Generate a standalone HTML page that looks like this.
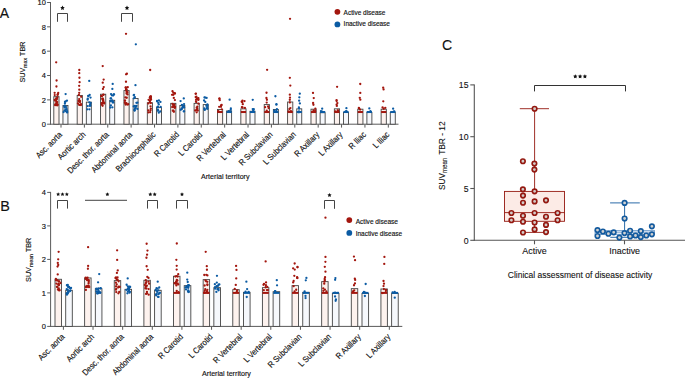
<!DOCTYPE html>
<html><head><meta charset="utf-8"><style>
html,body{margin:0;padding:0;background:#fff;width:685px;height:378px;overflow:hidden}
svg{display:block}
text{font-family:"Liberation Sans",sans-serif;stroke:#111;stroke-width:0.15px}
</style></head><body>
<svg width="685" height="378" viewBox="0 0 685 378">
<line x1="50.50" y1="2.00" x2="50.50" y2="124.70" stroke="#5a5a5a" stroke-width="1"/>
<line x1="50.00" y1="124.20" x2="398.50" y2="124.20" stroke="#5a5a5a" stroke-width="1"/>
<line x1="47.10" y1="124.20" x2="50.50" y2="124.20" stroke="#5a5a5a" stroke-width="1"/>
<text x="45.90" y="126.95" font-size="7.9" text-anchor="end" fill="#111" textLength="4.17" lengthAdjust="spacingAndGlyphs" >0</text>
<line x1="47.10" y1="99.86" x2="50.50" y2="99.86" stroke="#5a5a5a" stroke-width="1"/>
<text x="45.90" y="102.61" font-size="7.9" text-anchor="end" fill="#111" textLength="4.17" lengthAdjust="spacingAndGlyphs" >2</text>
<line x1="47.10" y1="75.52" x2="50.50" y2="75.52" stroke="#5a5a5a" stroke-width="1"/>
<text x="45.90" y="78.27" font-size="7.9" text-anchor="end" fill="#111" textLength="4.17" lengthAdjust="spacingAndGlyphs" >4</text>
<line x1="47.10" y1="51.18" x2="50.50" y2="51.18" stroke="#5a5a5a" stroke-width="1"/>
<text x="45.90" y="53.93" font-size="7.9" text-anchor="end" fill="#111" textLength="4.17" lengthAdjust="spacingAndGlyphs" >6</text>
<line x1="47.10" y1="26.84" x2="50.50" y2="26.84" stroke="#5a5a5a" stroke-width="1"/>
<text x="45.90" y="29.59" font-size="7.9" text-anchor="end" fill="#111" textLength="4.17" lengthAdjust="spacingAndGlyphs" >8</text>
<line x1="47.10" y1="2.50" x2="50.50" y2="2.50" stroke="#5a5a5a" stroke-width="1"/>
<text x="45.90" y="5.25" font-size="7.9" text-anchor="end" fill="#111" textLength="8.34" lengthAdjust="spacingAndGlyphs" >10</text>
<rect x="53.80" y="96.66" width="5.20" height="27.54" fill="#fdf2ee" stroke="#454545" stroke-width="0.9"/>
<rect x="62.95" y="105.54" width="5.00" height="18.66" fill="#f6f8fc" stroke="#454545" stroke-width="0.9"/>
<line x1="61.00" y1="124.20" x2="61.00" y2="127.60" stroke="#5a5a5a" stroke-width="1"/>
<text x="62.70" y="135.20" font-size="8.6" text-anchor="end" fill="#111" textLength="33.31" lengthAdjust="spacingAndGlyphs" transform="rotate(-45 62.70 135.20)">Asc. aorta</text>
<rect x="77.18" y="95.44" width="5.20" height="28.76" fill="#fdf2ee" stroke="#454545" stroke-width="0.9"/>
<rect x="86.33" y="102.14" width="5.00" height="22.06" fill="#f6f8fc" stroke="#454545" stroke-width="0.9"/>
<line x1="84.38" y1="124.20" x2="84.38" y2="127.60" stroke="#5a5a5a" stroke-width="1"/>
<text x="86.08" y="135.20" font-size="8.6" text-anchor="end" fill="#111" textLength="35.37" lengthAdjust="spacingAndGlyphs" transform="rotate(-45 86.08 135.20)">Aortic arch</text>
<rect x="100.56" y="94.23" width="5.20" height="29.97" fill="#fdf2ee" stroke="#454545" stroke-width="0.9"/>
<rect x="109.71" y="100.31" width="5.00" height="23.89" fill="#f6f8fc" stroke="#454545" stroke-width="0.9"/>
<line x1="107.76" y1="124.20" x2="107.76" y2="127.60" stroke="#5a5a5a" stroke-width="1"/>
<text x="109.46" y="135.20" font-size="8.6" text-anchor="end" fill="#111" textLength="54.70" lengthAdjust="spacingAndGlyphs" transform="rotate(-45 109.46 135.20)">Desc. thor. aorta</text>
<rect x="123.94" y="90.57" width="5.20" height="33.63" fill="#fdf2ee" stroke="#454545" stroke-width="0.9"/>
<rect x="133.09" y="98.48" width="5.00" height="25.72" fill="#f6f8fc" stroke="#454545" stroke-width="0.9"/>
<line x1="131.14" y1="124.20" x2="131.14" y2="127.60" stroke="#5a5a5a" stroke-width="1"/>
<text x="132.84" y="135.20" font-size="8.6" text-anchor="end" fill="#111" textLength="53.89" lengthAdjust="spacingAndGlyphs" transform="rotate(-45 132.84 135.20)">Abdominal aorta</text>
<rect x="147.32" y="102.74" width="5.20" height="21.46" fill="#fdf2ee" stroke="#454545" stroke-width="0.9"/>
<rect x="156.47" y="107.61" width="5.00" height="16.59" fill="#f6f8fc" stroke="#454545" stroke-width="0.9"/>
<line x1="154.52" y1="124.20" x2="154.52" y2="127.60" stroke="#5a5a5a" stroke-width="1"/>
<text x="156.22" y="135.20" font-size="8.6" text-anchor="end" fill="#111" textLength="52.24" lengthAdjust="spacingAndGlyphs" transform="rotate(-45 156.22 135.20)">Brachiocephalic</text>
<rect x="170.70" y="103.35" width="5.20" height="20.85" fill="#fdf2ee" stroke="#454545" stroke-width="0.9"/>
<rect x="179.85" y="105.54" width="5.00" height="18.66" fill="#f6f8fc" stroke="#454545" stroke-width="0.9"/>
<line x1="177.90" y1="124.20" x2="177.90" y2="127.60" stroke="#5a5a5a" stroke-width="1"/>
<text x="179.60" y="135.20" font-size="8.6" text-anchor="end" fill="#111" textLength="31.25" lengthAdjust="spacingAndGlyphs" transform="rotate(-45 179.60 135.20)">R Carotid</text>
<rect x="194.08" y="103.35" width="5.20" height="20.85" fill="#fdf2ee" stroke="#454545" stroke-width="0.9"/>
<rect x="203.23" y="104.57" width="5.00" height="19.63" fill="#f6f8fc" stroke="#454545" stroke-width="0.9"/>
<line x1="201.28" y1="124.20" x2="201.28" y2="127.60" stroke="#5a5a5a" stroke-width="1"/>
<text x="202.98" y="135.20" font-size="8.6" text-anchor="end" fill="#111" textLength="30.03" lengthAdjust="spacingAndGlyphs" transform="rotate(-45 202.98 135.20)">L Carotid</text>
<rect x="217.46" y="109.44" width="5.20" height="14.76" fill="#fdf2ee" stroke="#454545" stroke-width="0.9"/>
<rect x="226.61" y="110.90" width="5.00" height="13.30" fill="#f6f8fc" stroke="#454545" stroke-width="0.9"/>
<line x1="224.66" y1="124.20" x2="224.66" y2="127.60" stroke="#5a5a5a" stroke-width="1"/>
<text x="226.36" y="135.20" font-size="8.6" text-anchor="end" fill="#111" textLength="37.43" lengthAdjust="spacingAndGlyphs" transform="rotate(-45 226.36 135.20)">R Vertebral</text>
<rect x="240.84" y="108.83" width="5.20" height="15.37" fill="#fdf2ee" stroke="#454545" stroke-width="0.9"/>
<rect x="249.99" y="111.26" width="5.00" height="12.94" fill="#f6f8fc" stroke="#454545" stroke-width="0.9"/>
<line x1="248.04" y1="124.20" x2="248.04" y2="127.60" stroke="#5a5a5a" stroke-width="1"/>
<text x="249.74" y="135.20" font-size="8.6" text-anchor="end" fill="#111" textLength="36.20" lengthAdjust="spacingAndGlyphs" transform="rotate(-45 249.74 135.20)">L Vertebral</text>
<rect x="264.22" y="104.57" width="5.20" height="19.63" fill="#fdf2ee" stroke="#454545" stroke-width="0.9"/>
<rect x="273.37" y="109.44" width="5.00" height="14.76" fill="#f6f8fc" stroke="#454545" stroke-width="0.9"/>
<line x1="271.42" y1="124.20" x2="271.42" y2="127.60" stroke="#5a5a5a" stroke-width="1"/>
<text x="273.12" y="135.20" font-size="8.6" text-anchor="end" fill="#111" textLength="43.60" lengthAdjust="spacingAndGlyphs" transform="rotate(-45 273.12 135.20)">R Subclavian</text>
<rect x="287.60" y="102.01" width="5.20" height="22.19" fill="#fdf2ee" stroke="#454545" stroke-width="0.9"/>
<rect x="296.75" y="108.83" width="5.00" height="15.37" fill="#f6f8fc" stroke="#454545" stroke-width="0.9"/>
<line x1="294.80" y1="124.20" x2="294.80" y2="127.60" stroke="#5a5a5a" stroke-width="1"/>
<text x="296.50" y="135.20" font-size="8.6" text-anchor="end" fill="#111" textLength="42.37" lengthAdjust="spacingAndGlyphs" transform="rotate(-45 296.50 135.20)">L Subclavian</text>
<rect x="310.98" y="109.19" width="5.20" height="15.01" fill="#fdf2ee" stroke="#454545" stroke-width="0.9"/>
<rect x="320.13" y="112.72" width="5.00" height="11.48" fill="#f6f8fc" stroke="#454545" stroke-width="0.9"/>
<line x1="318.18" y1="124.20" x2="318.18" y2="127.60" stroke="#5a5a5a" stroke-width="1"/>
<text x="319.88" y="135.20" font-size="8.6" text-anchor="end" fill="#111" textLength="31.25" lengthAdjust="spacingAndGlyphs" transform="rotate(-45 319.88 135.20)">R Axillary</text>
<rect x="334.36" y="108.83" width="5.20" height="15.37" fill="#fdf2ee" stroke="#454545" stroke-width="0.9"/>
<rect x="343.51" y="112.48" width="5.00" height="11.72" fill="#f6f8fc" stroke="#454545" stroke-width="0.9"/>
<line x1="341.56" y1="124.20" x2="341.56" y2="127.60" stroke="#5a5a5a" stroke-width="1"/>
<text x="343.26" y="135.20" font-size="8.6" text-anchor="end" fill="#111" textLength="30.02" lengthAdjust="spacingAndGlyphs" transform="rotate(-45 343.26 135.20)">L Axillary</text>
<rect x="357.74" y="109.19" width="5.20" height="15.01" fill="#fdf2ee" stroke="#454545" stroke-width="0.9"/>
<rect x="366.89" y="112.48" width="5.00" height="11.72" fill="#f6f8fc" stroke="#454545" stroke-width="0.9"/>
<line x1="364.94" y1="124.20" x2="364.94" y2="127.60" stroke="#5a5a5a" stroke-width="1"/>
<text x="366.64" y="135.20" font-size="8.6" text-anchor="end" fill="#111" textLength="20.56" lengthAdjust="spacingAndGlyphs" transform="rotate(-45 366.64 135.20)">R Iliac</text>
<rect x="381.12" y="109.19" width="5.20" height="15.01" fill="#fdf2ee" stroke="#454545" stroke-width="0.9"/>
<rect x="390.27" y="112.48" width="5.00" height="11.72" fill="#f6f8fc" stroke="#454545" stroke-width="0.9"/>
<line x1="388.32" y1="124.20" x2="388.32" y2="127.60" stroke="#5a5a5a" stroke-width="1"/>
<text x="390.02" y="135.20" font-size="8.6" text-anchor="end" fill="#111" textLength="19.33" lengthAdjust="spacingAndGlyphs" transform="rotate(-45 390.02 135.20)">L Iliac</text>
<text x="201.00" y="178.80" font-size="7.8" text-anchor="start" fill="#111" textLength="48.50" lengthAdjust="spacingAndGlyphs" >Arterial territory</text>
<circle cx="56.19" cy="62.29" r="1.15" fill="#a3160e" stroke="none" stroke-width="0"/>
<circle cx="56.58" cy="80.50" r="1.15" fill="#a3160e" stroke="none" stroke-width="0"/>
<circle cx="56.44" cy="86.51" r="1.15" fill="#a3160e" stroke="none" stroke-width="0"/>
<circle cx="55.19" cy="105.21" r="1.15" fill="#a3160e" stroke="none" stroke-width="0"/>
<circle cx="56.93" cy="99.01" r="1.15" fill="#a3160e" stroke="none" stroke-width="0"/>
<circle cx="56.58" cy="105.18" r="1.15" fill="#a3160e" stroke="none" stroke-width="0"/>
<circle cx="54.73" cy="99.91" r="1.15" fill="#a3160e" stroke="none" stroke-width="0"/>
<circle cx="57.09" cy="104.96" r="1.15" fill="#a3160e" stroke="none" stroke-width="0"/>
<circle cx="55.69" cy="104.77" r="1.15" fill="#a3160e" stroke="none" stroke-width="0"/>
<circle cx="56.22" cy="100.09" r="1.15" fill="#a3160e" stroke="none" stroke-width="0"/>
<circle cx="57.52" cy="94.89" r="1.15" fill="#a3160e" stroke="none" stroke-width="0"/>
<circle cx="55.43" cy="104.32" r="1.15" fill="#a3160e" stroke="none" stroke-width="0"/>
<circle cx="56.50" cy="103.15" r="1.15" fill="#a3160e" stroke="none" stroke-width="0"/>
<circle cx="57.27" cy="97.34" r="1.15" fill="#a3160e" stroke="none" stroke-width="0"/>
<circle cx="58.22" cy="92.91" r="1.15" fill="#a3160e" stroke="none" stroke-width="0"/>
<circle cx="56.09" cy="98.30" r="1.15" fill="#a3160e" stroke="none" stroke-width="0"/>
<circle cx="55.08" cy="100.58" r="1.15" fill="#a3160e" stroke="none" stroke-width="0"/>
<circle cx="54.65" cy="92.86" r="1.15" fill="#a3160e" stroke="none" stroke-width="0"/>
<circle cx="57.41" cy="105.36" r="1.15" fill="#a3160e" stroke="none" stroke-width="0"/>
<circle cx="57.83" cy="94.24" r="1.15" fill="#a3160e" stroke="none" stroke-width="0"/>
<circle cx="57.14" cy="102.09" r="1.15" fill="#a3160e" stroke="none" stroke-width="0"/>
<circle cx="56.70" cy="103.97" r="1.15" fill="#a3160e" stroke="none" stroke-width="0"/>
<circle cx="57.69" cy="104.62" r="1.15" fill="#a3160e" stroke="none" stroke-width="0"/>
<circle cx="56.30" cy="101.88" r="1.15" fill="#a3160e" stroke="none" stroke-width="0"/>
<circle cx="54.73" cy="95.04" r="1.15" fill="#a3160e" stroke="none" stroke-width="0"/>
<circle cx="65.63" cy="94.07" r="1.15" fill="#0b5ba3" stroke="none" stroke-width="0"/>
<circle cx="65.64" cy="101.43" r="1.15" fill="#0b5ba3" stroke="none" stroke-width="0"/>
<circle cx="66.66" cy="109.14" r="1.15" fill="#0b5ba3" stroke="none" stroke-width="0"/>
<circle cx="64.61" cy="107.41" r="1.15" fill="#0b5ba3" stroke="none" stroke-width="0"/>
<circle cx="64.91" cy="103.63" r="1.15" fill="#0b5ba3" stroke="none" stroke-width="0"/>
<circle cx="67.19" cy="112.47" r="1.15" fill="#0b5ba3" stroke="none" stroke-width="0"/>
<circle cx="64.22" cy="106.21" r="1.15" fill="#0b5ba3" stroke="none" stroke-width="0"/>
<circle cx="64.44" cy="110.58" r="1.15" fill="#0b5ba3" stroke="none" stroke-width="0"/>
<circle cx="65.79" cy="111.18" r="1.15" fill="#0b5ba3" stroke="none" stroke-width="0"/>
<circle cx="63.57" cy="112.11" r="1.15" fill="#0b5ba3" stroke="none" stroke-width="0"/>
<circle cx="64.95" cy="102.01" r="1.15" fill="#0b5ba3" stroke="none" stroke-width="0"/>
<circle cx="67.17" cy="111.26" r="1.15" fill="#0b5ba3" stroke="none" stroke-width="0"/>
<circle cx="65.51" cy="109.52" r="1.15" fill="#0b5ba3" stroke="none" stroke-width="0"/>
<circle cx="66.12" cy="107.12" r="1.15" fill="#0b5ba3" stroke="none" stroke-width="0"/>
<circle cx="66.97" cy="100.66" r="1.15" fill="#0b5ba3" stroke="none" stroke-width="0"/>
<circle cx="66.87" cy="112.03" r="1.15" fill="#0b5ba3" stroke="none" stroke-width="0"/>
<circle cx="65.04" cy="106.49" r="1.15" fill="#0b5ba3" stroke="none" stroke-width="0"/>
<circle cx="79.30" cy="70.00" r="1.15" fill="#a3160e" stroke="none" stroke-width="0"/>
<circle cx="79.25" cy="73.19" r="1.15" fill="#a3160e" stroke="none" stroke-width="0"/>
<circle cx="79.43" cy="77.75" r="1.15" fill="#a3160e" stroke="none" stroke-width="0"/>
<circle cx="79.59" cy="82.19" r="1.15" fill="#a3160e" stroke="none" stroke-width="0"/>
<circle cx="79.18" cy="85.78" r="1.15" fill="#a3160e" stroke="none" stroke-width="0"/>
<circle cx="79.30" cy="89.68" r="1.15" fill="#a3160e" stroke="none" stroke-width="0"/>
<circle cx="79.21" cy="92.78" r="1.15" fill="#a3160e" stroke="none" stroke-width="0"/>
<circle cx="79.18" cy="99.08" r="1.15" fill="#a3160e" stroke="none" stroke-width="0"/>
<circle cx="81.03" cy="104.11" r="1.15" fill="#a3160e" stroke="none" stroke-width="0"/>
<circle cx="77.97" cy="103.45" r="1.15" fill="#a3160e" stroke="none" stroke-width="0"/>
<circle cx="79.89" cy="101.93" r="1.15" fill="#a3160e" stroke="none" stroke-width="0"/>
<circle cx="79.94" cy="101.67" r="1.15" fill="#a3160e" stroke="none" stroke-width="0"/>
<circle cx="79.89" cy="104.89" r="1.15" fill="#a3160e" stroke="none" stroke-width="0"/>
<circle cx="81.16" cy="96.76" r="1.15" fill="#a3160e" stroke="none" stroke-width="0"/>
<circle cx="78.87" cy="94.99" r="1.15" fill="#a3160e" stroke="none" stroke-width="0"/>
<circle cx="78.51" cy="101.00" r="1.15" fill="#a3160e" stroke="none" stroke-width="0"/>
<circle cx="79.90" cy="100.81" r="1.15" fill="#a3160e" stroke="none" stroke-width="0"/>
<circle cx="79.13" cy="104.84" r="1.15" fill="#a3160e" stroke="none" stroke-width="0"/>
<circle cx="80.96" cy="105.12" r="1.15" fill="#a3160e" stroke="none" stroke-width="0"/>
<circle cx="89.25" cy="80.94" r="1.15" fill="#0b5ba3" stroke="none" stroke-width="0"/>
<circle cx="90.56" cy="97.56" r="1.15" fill="#0b5ba3" stroke="none" stroke-width="0"/>
<circle cx="87.77" cy="98.63" r="1.15" fill="#0b5ba3" stroke="none" stroke-width="0"/>
<circle cx="87.68" cy="106.11" r="1.15" fill="#0b5ba3" stroke="none" stroke-width="0"/>
<circle cx="89.30" cy="102.28" r="1.15" fill="#0b5ba3" stroke="none" stroke-width="0"/>
<circle cx="90.12" cy="104.39" r="1.15" fill="#0b5ba3" stroke="none" stroke-width="0"/>
<circle cx="89.41" cy="109.35" r="1.15" fill="#0b5ba3" stroke="none" stroke-width="0"/>
<circle cx="87.25" cy="109.28" r="1.15" fill="#0b5ba3" stroke="none" stroke-width="0"/>
<circle cx="90.39" cy="105.68" r="1.15" fill="#0b5ba3" stroke="none" stroke-width="0"/>
<circle cx="89.78" cy="105.80" r="1.15" fill="#0b5ba3" stroke="none" stroke-width="0"/>
<circle cx="87.61" cy="99.66" r="1.15" fill="#0b5ba3" stroke="none" stroke-width="0"/>
<circle cx="88.19" cy="95.81" r="1.15" fill="#0b5ba3" stroke="none" stroke-width="0"/>
<circle cx="90.62" cy="103.00" r="1.15" fill="#0b5ba3" stroke="none" stroke-width="0"/>
<circle cx="88.46" cy="96.18" r="1.15" fill="#0b5ba3" stroke="none" stroke-width="0"/>
<circle cx="89.68" cy="94.97" r="1.15" fill="#0b5ba3" stroke="none" stroke-width="0"/>
<circle cx="102.71" cy="66.06" r="1.15" fill="#a3160e" stroke="none" stroke-width="0"/>
<circle cx="103.65" cy="79.60" r="1.15" fill="#a3160e" stroke="none" stroke-width="0"/>
<circle cx="102.74" cy="82.65" r="1.15" fill="#a3160e" stroke="none" stroke-width="0"/>
<circle cx="103.74" cy="87.05" r="1.15" fill="#a3160e" stroke="none" stroke-width="0"/>
<circle cx="102.98" cy="88.94" r="1.15" fill="#a3160e" stroke="none" stroke-width="0"/>
<circle cx="101.76" cy="104.66" r="1.15" fill="#a3160e" stroke="none" stroke-width="0"/>
<circle cx="102.60" cy="105.75" r="1.15" fill="#a3160e" stroke="none" stroke-width="0"/>
<circle cx="103.48" cy="94.84" r="1.15" fill="#a3160e" stroke="none" stroke-width="0"/>
<circle cx="102.86" cy="98.61" r="1.15" fill="#a3160e" stroke="none" stroke-width="0"/>
<circle cx="103.17" cy="99.81" r="1.15" fill="#a3160e" stroke="none" stroke-width="0"/>
<circle cx="103.25" cy="94.75" r="1.15" fill="#a3160e" stroke="none" stroke-width="0"/>
<circle cx="102.93" cy="100.69" r="1.15" fill="#a3160e" stroke="none" stroke-width="0"/>
<circle cx="101.27" cy="95.94" r="1.15" fill="#a3160e" stroke="none" stroke-width="0"/>
<circle cx="101.91" cy="96.28" r="1.15" fill="#a3160e" stroke="none" stroke-width="0"/>
<circle cx="104.02" cy="103.51" r="1.15" fill="#a3160e" stroke="none" stroke-width="0"/>
<circle cx="102.50" cy="103.01" r="1.15" fill="#a3160e" stroke="none" stroke-width="0"/>
<circle cx="103.37" cy="102.69" r="1.15" fill="#a3160e" stroke="none" stroke-width="0"/>
<circle cx="101.66" cy="103.17" r="1.15" fill="#a3160e" stroke="none" stroke-width="0"/>
<circle cx="102.20" cy="98.96" r="1.15" fill="#a3160e" stroke="none" stroke-width="0"/>
<circle cx="104.19" cy="102.92" r="1.15" fill="#a3160e" stroke="none" stroke-width="0"/>
<circle cx="103.39" cy="101.21" r="1.15" fill="#a3160e" stroke="none" stroke-width="0"/>
<circle cx="112.70" cy="83.88" r="1.15" fill="#0b5ba3" stroke="none" stroke-width="0"/>
<circle cx="112.35" cy="88.91" r="1.15" fill="#0b5ba3" stroke="none" stroke-width="0"/>
<circle cx="110.59" cy="101.09" r="1.15" fill="#0b5ba3" stroke="none" stroke-width="0"/>
<circle cx="110.59" cy="98.40" r="1.15" fill="#0b5ba3" stroke="none" stroke-width="0"/>
<circle cx="113.29" cy="102.46" r="1.15" fill="#0b5ba3" stroke="none" stroke-width="0"/>
<circle cx="110.90" cy="101.03" r="1.15" fill="#0b5ba3" stroke="none" stroke-width="0"/>
<circle cx="112.82" cy="101.59" r="1.15" fill="#0b5ba3" stroke="none" stroke-width="0"/>
<circle cx="113.66" cy="94.52" r="1.15" fill="#0b5ba3" stroke="none" stroke-width="0"/>
<circle cx="111.14" cy="98.46" r="1.15" fill="#0b5ba3" stroke="none" stroke-width="0"/>
<circle cx="111.82" cy="95.29" r="1.15" fill="#0b5ba3" stroke="none" stroke-width="0"/>
<circle cx="114.07" cy="94.43" r="1.15" fill="#0b5ba3" stroke="none" stroke-width="0"/>
<circle cx="110.92" cy="105.32" r="1.15" fill="#0b5ba3" stroke="none" stroke-width="0"/>
<circle cx="112.27" cy="100.38" r="1.15" fill="#0b5ba3" stroke="none" stroke-width="0"/>
<circle cx="111.05" cy="94.10" r="1.15" fill="#0b5ba3" stroke="none" stroke-width="0"/>
<circle cx="113.05" cy="95.61" r="1.15" fill="#0b5ba3" stroke="none" stroke-width="0"/>
<circle cx="112.42" cy="107.32" r="1.15" fill="#0b5ba3" stroke="none" stroke-width="0"/>
<circle cx="110.38" cy="107.51" r="1.15" fill="#0b5ba3" stroke="none" stroke-width="0"/>
<circle cx="112.68" cy="102.39" r="1.15" fill="#0b5ba3" stroke="none" stroke-width="0"/>
<circle cx="126.02" cy="33.82" r="1.15" fill="#a3160e" stroke="none" stroke-width="0"/>
<circle cx="126.89" cy="73.73" r="1.15" fill="#a3160e" stroke="none" stroke-width="0"/>
<circle cx="126.07" cy="74.28" r="1.15" fill="#a3160e" stroke="none" stroke-width="0"/>
<circle cx="125.99" cy="81.77" r="1.15" fill="#a3160e" stroke="none" stroke-width="0"/>
<circle cx="124.89" cy="100.76" r="1.15" fill="#a3160e" stroke="none" stroke-width="0"/>
<circle cx="126.36" cy="103.26" r="1.15" fill="#a3160e" stroke="none" stroke-width="0"/>
<circle cx="126.74" cy="97.77" r="1.15" fill="#a3160e" stroke="none" stroke-width="0"/>
<circle cx="125.66" cy="87.53" r="1.15" fill="#a3160e" stroke="none" stroke-width="0"/>
<circle cx="126.64" cy="89.44" r="1.15" fill="#a3160e" stroke="none" stroke-width="0"/>
<circle cx="125.06" cy="100.58" r="1.15" fill="#a3160e" stroke="none" stroke-width="0"/>
<circle cx="124.83" cy="102.78" r="1.15" fill="#a3160e" stroke="none" stroke-width="0"/>
<circle cx="125.83" cy="87.48" r="1.15" fill="#a3160e" stroke="none" stroke-width="0"/>
<circle cx="127.53" cy="94.43" r="1.15" fill="#a3160e" stroke="none" stroke-width="0"/>
<circle cx="126.54" cy="91.77" r="1.15" fill="#a3160e" stroke="none" stroke-width="0"/>
<circle cx="125.96" cy="103.87" r="1.15" fill="#a3160e" stroke="none" stroke-width="0"/>
<circle cx="125.59" cy="104.51" r="1.15" fill="#a3160e" stroke="none" stroke-width="0"/>
<circle cx="127.43" cy="92.24" r="1.15" fill="#a3160e" stroke="none" stroke-width="0"/>
<circle cx="125.36" cy="97.44" r="1.15" fill="#a3160e" stroke="none" stroke-width="0"/>
<circle cx="128.19" cy="104.26" r="1.15" fill="#a3160e" stroke="none" stroke-width="0"/>
<circle cx="127.75" cy="87.18" r="1.15" fill="#a3160e" stroke="none" stroke-width="0"/>
<circle cx="126.52" cy="93.48" r="1.15" fill="#a3160e" stroke="none" stroke-width="0"/>
<circle cx="126.13" cy="89.95" r="1.15" fill="#a3160e" stroke="none" stroke-width="0"/>
<circle cx="127.25" cy="104.56" r="1.15" fill="#a3160e" stroke="none" stroke-width="0"/>
<circle cx="125.94" cy="89.06" r="1.15" fill="#a3160e" stroke="none" stroke-width="0"/>
<circle cx="135.84" cy="44.32" r="1.15" fill="#0b5ba3" stroke="none" stroke-width="0"/>
<circle cx="135.48" cy="85.16" r="1.15" fill="#0b5ba3" stroke="none" stroke-width="0"/>
<circle cx="134.69" cy="110.55" r="1.15" fill="#0b5ba3" stroke="none" stroke-width="0"/>
<circle cx="137.39" cy="108.88" r="1.15" fill="#0b5ba3" stroke="none" stroke-width="0"/>
<circle cx="134.62" cy="110.25" r="1.15" fill="#0b5ba3" stroke="none" stroke-width="0"/>
<circle cx="134.87" cy="97.24" r="1.15" fill="#0b5ba3" stroke="none" stroke-width="0"/>
<circle cx="133.69" cy="106.41" r="1.15" fill="#0b5ba3" stroke="none" stroke-width="0"/>
<circle cx="135.49" cy="108.22" r="1.15" fill="#0b5ba3" stroke="none" stroke-width="0"/>
<circle cx="134.45" cy="109.71" r="1.15" fill="#0b5ba3" stroke="none" stroke-width="0"/>
<circle cx="133.71" cy="95.29" r="1.15" fill="#0b5ba3" stroke="none" stroke-width="0"/>
<circle cx="134.03" cy="94.82" r="1.15" fill="#0b5ba3" stroke="none" stroke-width="0"/>
<circle cx="133.85" cy="98.36" r="1.15" fill="#0b5ba3" stroke="none" stroke-width="0"/>
<circle cx="134.85" cy="105.82" r="1.15" fill="#0b5ba3" stroke="none" stroke-width="0"/>
<circle cx="135.92" cy="106.75" r="1.15" fill="#0b5ba3" stroke="none" stroke-width="0"/>
<circle cx="136.54" cy="105.87" r="1.15" fill="#0b5ba3" stroke="none" stroke-width="0"/>
<circle cx="136.41" cy="102.86" r="1.15" fill="#0b5ba3" stroke="none" stroke-width="0"/>
<circle cx="135.17" cy="108.22" r="1.15" fill="#0b5ba3" stroke="none" stroke-width="0"/>
<circle cx="137.43" cy="102.68" r="1.15" fill="#0b5ba3" stroke="none" stroke-width="0"/>
<circle cx="150.19" cy="70.01" r="1.15" fill="#a3160e" stroke="none" stroke-width="0"/>
<circle cx="148.42" cy="112.38" r="1.15" fill="#a3160e" stroke="none" stroke-width="0"/>
<circle cx="150.14" cy="97.43" r="1.15" fill="#a3160e" stroke="none" stroke-width="0"/>
<circle cx="150.40" cy="96.40" r="1.15" fill="#a3160e" stroke="none" stroke-width="0"/>
<circle cx="149.88" cy="100.95" r="1.15" fill="#a3160e" stroke="none" stroke-width="0"/>
<circle cx="151.05" cy="99.40" r="1.15" fill="#a3160e" stroke="none" stroke-width="0"/>
<circle cx="149.93" cy="97.80" r="1.15" fill="#a3160e" stroke="none" stroke-width="0"/>
<circle cx="150.53" cy="110.13" r="1.15" fill="#a3160e" stroke="none" stroke-width="0"/>
<circle cx="150.82" cy="103.04" r="1.15" fill="#a3160e" stroke="none" stroke-width="0"/>
<circle cx="148.30" cy="103.41" r="1.15" fill="#a3160e" stroke="none" stroke-width="0"/>
<circle cx="150.79" cy="97.18" r="1.15" fill="#a3160e" stroke="none" stroke-width="0"/>
<circle cx="150.83" cy="98.21" r="1.15" fill="#a3160e" stroke="none" stroke-width="0"/>
<circle cx="149.90" cy="97.44" r="1.15" fill="#a3160e" stroke="none" stroke-width="0"/>
<circle cx="149.84" cy="102.17" r="1.15" fill="#a3160e" stroke="none" stroke-width="0"/>
<circle cx="150.93" cy="96.34" r="1.15" fill="#a3160e" stroke="none" stroke-width="0"/>
<circle cx="150.46" cy="99.95" r="1.15" fill="#a3160e" stroke="none" stroke-width="0"/>
<circle cx="148.58" cy="99.86" r="1.15" fill="#a3160e" stroke="none" stroke-width="0"/>
<circle cx="150.84" cy="108.58" r="1.15" fill="#a3160e" stroke="none" stroke-width="0"/>
<circle cx="150.18" cy="112.13" r="1.15" fill="#a3160e" stroke="none" stroke-width="0"/>
<circle cx="148.25" cy="110.37" r="1.15" fill="#a3160e" stroke="none" stroke-width="0"/>
<circle cx="150.57" cy="106.36" r="1.15" fill="#a3160e" stroke="none" stroke-width="0"/>
<circle cx="158.78" cy="104.39" r="1.15" fill="#0b5ba3" stroke="none" stroke-width="0"/>
<circle cx="157.87" cy="109.63" r="1.15" fill="#0b5ba3" stroke="none" stroke-width="0"/>
<circle cx="157.87" cy="106.58" r="1.15" fill="#0b5ba3" stroke="none" stroke-width="0"/>
<circle cx="157.61" cy="107.19" r="1.15" fill="#0b5ba3" stroke="none" stroke-width="0"/>
<circle cx="160.69" cy="106.94" r="1.15" fill="#0b5ba3" stroke="none" stroke-width="0"/>
<circle cx="160.19" cy="111.52" r="1.15" fill="#0b5ba3" stroke="none" stroke-width="0"/>
<circle cx="160.44" cy="101.92" r="1.15" fill="#0b5ba3" stroke="none" stroke-width="0"/>
<circle cx="157.95" cy="110.74" r="1.15" fill="#0b5ba3" stroke="none" stroke-width="0"/>
<circle cx="158.92" cy="100.46" r="1.15" fill="#0b5ba3" stroke="none" stroke-width="0"/>
<circle cx="157.08" cy="101.26" r="1.15" fill="#0b5ba3" stroke="none" stroke-width="0"/>
<circle cx="158.78" cy="112.67" r="1.15" fill="#0b5ba3" stroke="none" stroke-width="0"/>
<circle cx="157.60" cy="107.16" r="1.15" fill="#0b5ba3" stroke="none" stroke-width="0"/>
<circle cx="158.27" cy="102.93" r="1.15" fill="#0b5ba3" stroke="none" stroke-width="0"/>
<circle cx="157.08" cy="101.02" r="1.15" fill="#0b5ba3" stroke="none" stroke-width="0"/>
<circle cx="173.34" cy="94.74" r="1.15" fill="#a3160e" stroke="none" stroke-width="0"/>
<circle cx="172.82" cy="110.69" r="1.15" fill="#a3160e" stroke="none" stroke-width="0"/>
<circle cx="174.76" cy="93.24" r="1.15" fill="#a3160e" stroke="none" stroke-width="0"/>
<circle cx="173.80" cy="97.89" r="1.15" fill="#a3160e" stroke="none" stroke-width="0"/>
<circle cx="174.97" cy="93.61" r="1.15" fill="#a3160e" stroke="none" stroke-width="0"/>
<circle cx="174.13" cy="106.49" r="1.15" fill="#a3160e" stroke="none" stroke-width="0"/>
<circle cx="174.18" cy="104.96" r="1.15" fill="#a3160e" stroke="none" stroke-width="0"/>
<circle cx="174.26" cy="104.63" r="1.15" fill="#a3160e" stroke="none" stroke-width="0"/>
<circle cx="172.49" cy="91.22" r="1.15" fill="#a3160e" stroke="none" stroke-width="0"/>
<circle cx="174.92" cy="100.09" r="1.15" fill="#a3160e" stroke="none" stroke-width="0"/>
<circle cx="173.19" cy="105.14" r="1.15" fill="#a3160e" stroke="none" stroke-width="0"/>
<circle cx="172.53" cy="103.93" r="1.15" fill="#a3160e" stroke="none" stroke-width="0"/>
<circle cx="175.11" cy="106.93" r="1.15" fill="#a3160e" stroke="none" stroke-width="0"/>
<circle cx="173.89" cy="111.84" r="1.15" fill="#a3160e" stroke="none" stroke-width="0"/>
<circle cx="173.52" cy="110.75" r="1.15" fill="#a3160e" stroke="none" stroke-width="0"/>
<circle cx="172.04" cy="94.82" r="1.15" fill="#a3160e" stroke="none" stroke-width="0"/>
<circle cx="172.19" cy="107.09" r="1.15" fill="#a3160e" stroke="none" stroke-width="0"/>
<circle cx="173.29" cy="92.68" r="1.15" fill="#a3160e" stroke="none" stroke-width="0"/>
<circle cx="174.84" cy="107.93" r="1.15" fill="#a3160e" stroke="none" stroke-width="0"/>
<circle cx="173.11" cy="107.06" r="1.15" fill="#a3160e" stroke="none" stroke-width="0"/>
<circle cx="180.69" cy="109.78" r="1.15" fill="#0b5ba3" stroke="none" stroke-width="0"/>
<circle cx="184.13" cy="111.32" r="1.15" fill="#0b5ba3" stroke="none" stroke-width="0"/>
<circle cx="182.36" cy="107.59" r="1.15" fill="#0b5ba3" stroke="none" stroke-width="0"/>
<circle cx="183.73" cy="111.37" r="1.15" fill="#0b5ba3" stroke="none" stroke-width="0"/>
<circle cx="181.48" cy="109.01" r="1.15" fill="#0b5ba3" stroke="none" stroke-width="0"/>
<circle cx="181.97" cy="108.82" r="1.15" fill="#0b5ba3" stroke="none" stroke-width="0"/>
<circle cx="184.07" cy="104.06" r="1.15" fill="#0b5ba3" stroke="none" stroke-width="0"/>
<circle cx="183.77" cy="98.46" r="1.15" fill="#0b5ba3" stroke="none" stroke-width="0"/>
<circle cx="180.57" cy="101.09" r="1.15" fill="#0b5ba3" stroke="none" stroke-width="0"/>
<circle cx="183.85" cy="106.36" r="1.15" fill="#0b5ba3" stroke="none" stroke-width="0"/>
<circle cx="182.68" cy="106.05" r="1.15" fill="#0b5ba3" stroke="none" stroke-width="0"/>
<circle cx="181.94" cy="104.84" r="1.15" fill="#0b5ba3" stroke="none" stroke-width="0"/>
<circle cx="183.59" cy="107.16" r="1.15" fill="#0b5ba3" stroke="none" stroke-width="0"/>
<circle cx="184.14" cy="107.42" r="1.15" fill="#0b5ba3" stroke="none" stroke-width="0"/>
<circle cx="195.21" cy="110.50" r="1.15" fill="#a3160e" stroke="none" stroke-width="0"/>
<circle cx="196.77" cy="109.88" r="1.15" fill="#a3160e" stroke="none" stroke-width="0"/>
<circle cx="196.25" cy="102.09" r="1.15" fill="#a3160e" stroke="none" stroke-width="0"/>
<circle cx="197.06" cy="98.68" r="1.15" fill="#a3160e" stroke="none" stroke-width="0"/>
<circle cx="195.93" cy="93.62" r="1.15" fill="#a3160e" stroke="none" stroke-width="0"/>
<circle cx="198.42" cy="98.25" r="1.15" fill="#a3160e" stroke="none" stroke-width="0"/>
<circle cx="198.14" cy="99.67" r="1.15" fill="#a3160e" stroke="none" stroke-width="0"/>
<circle cx="195.67" cy="97.12" r="1.15" fill="#a3160e" stroke="none" stroke-width="0"/>
<circle cx="198.43" cy="103.72" r="1.15" fill="#a3160e" stroke="none" stroke-width="0"/>
<circle cx="195.95" cy="101.37" r="1.15" fill="#a3160e" stroke="none" stroke-width="0"/>
<circle cx="196.67" cy="112.29" r="1.15" fill="#a3160e" stroke="none" stroke-width="0"/>
<circle cx="196.38" cy="96.77" r="1.15" fill="#a3160e" stroke="none" stroke-width="0"/>
<circle cx="197.32" cy="108.48" r="1.15" fill="#a3160e" stroke="none" stroke-width="0"/>
<circle cx="195.64" cy="93.80" r="1.15" fill="#a3160e" stroke="none" stroke-width="0"/>
<circle cx="196.06" cy="99.68" r="1.15" fill="#a3160e" stroke="none" stroke-width="0"/>
<circle cx="197.37" cy="106.57" r="1.15" fill="#a3160e" stroke="none" stroke-width="0"/>
<circle cx="197.81" cy="110.52" r="1.15" fill="#a3160e" stroke="none" stroke-width="0"/>
<circle cx="196.70" cy="107.65" r="1.15" fill="#a3160e" stroke="none" stroke-width="0"/>
<circle cx="198.47" cy="99.80" r="1.15" fill="#a3160e" stroke="none" stroke-width="0"/>
<circle cx="197.90" cy="98.47" r="1.15" fill="#a3160e" stroke="none" stroke-width="0"/>
<circle cx="204.37" cy="108.51" r="1.15" fill="#0b5ba3" stroke="none" stroke-width="0"/>
<circle cx="204.06" cy="100.52" r="1.15" fill="#0b5ba3" stroke="none" stroke-width="0"/>
<circle cx="207.24" cy="107.90" r="1.15" fill="#0b5ba3" stroke="none" stroke-width="0"/>
<circle cx="206.61" cy="97.97" r="1.15" fill="#0b5ba3" stroke="none" stroke-width="0"/>
<circle cx="207.37" cy="104.51" r="1.15" fill="#0b5ba3" stroke="none" stroke-width="0"/>
<circle cx="204.53" cy="109.56" r="1.15" fill="#0b5ba3" stroke="none" stroke-width="0"/>
<circle cx="206.67" cy="108.47" r="1.15" fill="#0b5ba3" stroke="none" stroke-width="0"/>
<circle cx="206.35" cy="105.73" r="1.15" fill="#0b5ba3" stroke="none" stroke-width="0"/>
<circle cx="205.25" cy="101.93" r="1.15" fill="#0b5ba3" stroke="none" stroke-width="0"/>
<circle cx="204.47" cy="97.42" r="1.15" fill="#0b5ba3" stroke="none" stroke-width="0"/>
<circle cx="204.89" cy="109.84" r="1.15" fill="#0b5ba3" stroke="none" stroke-width="0"/>
<circle cx="207.46" cy="105.94" r="1.15" fill="#0b5ba3" stroke="none" stroke-width="0"/>
<circle cx="207.49" cy="108.74" r="1.15" fill="#0b5ba3" stroke="none" stroke-width="0"/>
<circle cx="205.19" cy="97.53" r="1.15" fill="#0b5ba3" stroke="none" stroke-width="0"/>
<circle cx="219.72" cy="100.21" r="1.15" fill="#a3160e" stroke="none" stroke-width="0"/>
<circle cx="221.07" cy="105.44" r="1.15" fill="#a3160e" stroke="none" stroke-width="0"/>
<circle cx="218.29" cy="111.05" r="1.15" fill="#a3160e" stroke="none" stroke-width="0"/>
<circle cx="221.66" cy="104.97" r="1.15" fill="#a3160e" stroke="none" stroke-width="0"/>
<circle cx="221.00" cy="106.83" r="1.15" fill="#a3160e" stroke="none" stroke-width="0"/>
<circle cx="219.45" cy="98.46" r="1.15" fill="#a3160e" stroke="none" stroke-width="0"/>
<circle cx="221.80" cy="109.28" r="1.15" fill="#a3160e" stroke="none" stroke-width="0"/>
<circle cx="219.16" cy="106.84" r="1.15" fill="#a3160e" stroke="none" stroke-width="0"/>
<circle cx="219.36" cy="98.80" r="1.15" fill="#a3160e" stroke="none" stroke-width="0"/>
<circle cx="218.17" cy="111.74" r="1.15" fill="#a3160e" stroke="none" stroke-width="0"/>
<rect x="217.46" y="111.03" width="5.20" height="2.0" fill="#a3160e"/>
<circle cx="229.61" cy="99.70" r="1.15" fill="#0b5ba3" stroke="none" stroke-width="0"/>
<circle cx="230.85" cy="108.28" r="1.15" fill="#0b5ba3" stroke="none" stroke-width="0"/>
<circle cx="228.68" cy="111.78" r="1.15" fill="#0b5ba3" stroke="none" stroke-width="0"/>
<circle cx="228.84" cy="111.03" r="1.15" fill="#0b5ba3" stroke="none" stroke-width="0"/>
<circle cx="230.74" cy="109.82" r="1.15" fill="#0b5ba3" stroke="none" stroke-width="0"/>
<rect x="226.51" y="111.03" width="5.20" height="2.0" fill="#0b5ba3"/>
<circle cx="244.51" cy="101.03" r="1.15" fill="#a3160e" stroke="none" stroke-width="0"/>
<circle cx="242.29" cy="102.30" r="1.15" fill="#a3160e" stroke="none" stroke-width="0"/>
<circle cx="242.48" cy="100.75" r="1.15" fill="#a3160e" stroke="none" stroke-width="0"/>
<circle cx="241.67" cy="101.72" r="1.15" fill="#a3160e" stroke="none" stroke-width="0"/>
<circle cx="242.78" cy="104.19" r="1.15" fill="#a3160e" stroke="none" stroke-width="0"/>
<circle cx="244.90" cy="107.93" r="1.15" fill="#a3160e" stroke="none" stroke-width="0"/>
<circle cx="242.55" cy="107.50" r="1.15" fill="#a3160e" stroke="none" stroke-width="0"/>
<circle cx="241.91" cy="107.18" r="1.15" fill="#a3160e" stroke="none" stroke-width="0"/>
<rect x="240.84" y="111.03" width="5.20" height="2.0" fill="#a3160e"/>
<circle cx="252.74" cy="99.83" r="1.15" fill="#0b5ba3" stroke="none" stroke-width="0"/>
<circle cx="253.43" cy="111.24" r="1.15" fill="#0b5ba3" stroke="none" stroke-width="0"/>
<circle cx="253.11" cy="110.03" r="1.15" fill="#0b5ba3" stroke="none" stroke-width="0"/>
<circle cx="253.79" cy="109.26" r="1.15" fill="#0b5ba3" stroke="none" stroke-width="0"/>
<circle cx="252.74" cy="109.08" r="1.15" fill="#0b5ba3" stroke="none" stroke-width="0"/>
<rect x="249.89" y="111.03" width="5.20" height="2.0" fill="#0b5ba3"/>
<circle cx="267.11" cy="69.86" r="1.15" fill="#a3160e" stroke="none" stroke-width="0"/>
<circle cx="266.52" cy="92.77" r="1.15" fill="#a3160e" stroke="none" stroke-width="0"/>
<circle cx="266.40" cy="98.02" r="1.15" fill="#a3160e" stroke="none" stroke-width="0"/>
<circle cx="266.91" cy="99.76" r="1.15" fill="#a3160e" stroke="none" stroke-width="0"/>
<circle cx="266.70" cy="102.59" r="1.15" fill="#a3160e" stroke="none" stroke-width="0"/>
<circle cx="268.69" cy="108.09" r="1.15" fill="#a3160e" stroke="none" stroke-width="0"/>
<circle cx="266.72" cy="110.53" r="1.15" fill="#a3160e" stroke="none" stroke-width="0"/>
<circle cx="268.11" cy="106.38" r="1.15" fill="#a3160e" stroke="none" stroke-width="0"/>
<circle cx="265.07" cy="107.14" r="1.15" fill="#a3160e" stroke="none" stroke-width="0"/>
<rect x="264.22" y="111.03" width="5.20" height="2.0" fill="#a3160e"/>
<circle cx="275.41" cy="96.27" r="1.15" fill="#0b5ba3" stroke="none" stroke-width="0"/>
<circle cx="276.44" cy="104.17" r="1.15" fill="#0b5ba3" stroke="none" stroke-width="0"/>
<circle cx="276.39" cy="104.65" r="1.15" fill="#0b5ba3" stroke="none" stroke-width="0"/>
<circle cx="276.93" cy="109.14" r="1.15" fill="#0b5ba3" stroke="none" stroke-width="0"/>
<circle cx="274.37" cy="110.45" r="1.15" fill="#0b5ba3" stroke="none" stroke-width="0"/>
<circle cx="276.33" cy="110.91" r="1.15" fill="#0b5ba3" stroke="none" stroke-width="0"/>
<rect x="273.27" y="111.03" width="5.20" height="2.0" fill="#0b5ba3"/>
<circle cx="290.04" cy="18.84" r="1.15" fill="#a3160e" stroke="none" stroke-width="0"/>
<circle cx="289.84" cy="77.81" r="1.15" fill="#a3160e" stroke="none" stroke-width="0"/>
<circle cx="290.32" cy="85.59" r="1.15" fill="#a3160e" stroke="none" stroke-width="0"/>
<circle cx="289.84" cy="94.70" r="1.15" fill="#a3160e" stroke="none" stroke-width="0"/>
<circle cx="289.99" cy="97.53" r="1.15" fill="#a3160e" stroke="none" stroke-width="0"/>
<circle cx="289.82" cy="99.75" r="1.15" fill="#a3160e" stroke="none" stroke-width="0"/>
<circle cx="289.84" cy="102.47" r="1.15" fill="#a3160e" stroke="none" stroke-width="0"/>
<circle cx="290.39" cy="108.11" r="1.15" fill="#a3160e" stroke="none" stroke-width="0"/>
<circle cx="288.65" cy="111.37" r="1.15" fill="#a3160e" stroke="none" stroke-width="0"/>
<circle cx="290.94" cy="111.24" r="1.15" fill="#a3160e" stroke="none" stroke-width="0"/>
<circle cx="289.38" cy="109.03" r="1.15" fill="#a3160e" stroke="none" stroke-width="0"/>
<rect x="287.60" y="111.03" width="5.20" height="2.0" fill="#a3160e"/>
<circle cx="299.79" cy="93.66" r="1.15" fill="#0b5ba3" stroke="none" stroke-width="0"/>
<circle cx="299.33" cy="97.34" r="1.15" fill="#0b5ba3" stroke="none" stroke-width="0"/>
<circle cx="299.15" cy="100.69" r="1.15" fill="#0b5ba3" stroke="none" stroke-width="0"/>
<circle cx="299.85" cy="103.43" r="1.15" fill="#0b5ba3" stroke="none" stroke-width="0"/>
<circle cx="298.89" cy="107.30" r="1.15" fill="#0b5ba3" stroke="none" stroke-width="0"/>
<circle cx="298.96" cy="111.48" r="1.15" fill="#0b5ba3" stroke="none" stroke-width="0"/>
<circle cx="298.89" cy="112.24" r="1.15" fill="#0b5ba3" stroke="none" stroke-width="0"/>
<circle cx="299.10" cy="108.54" r="1.15" fill="#0b5ba3" stroke="none" stroke-width="0"/>
<rect x="296.65" y="111.03" width="5.20" height="2.0" fill="#0b5ba3"/>
<circle cx="313.00" cy="92.95" r="1.15" fill="#a3160e" stroke="none" stroke-width="0"/>
<circle cx="313.75" cy="98.04" r="1.15" fill="#a3160e" stroke="none" stroke-width="0"/>
<circle cx="313.09" cy="102.98" r="1.15" fill="#a3160e" stroke="none" stroke-width="0"/>
<circle cx="313.43" cy="104.73" r="1.15" fill="#a3160e" stroke="none" stroke-width="0"/>
<circle cx="315.20" cy="110.91" r="1.15" fill="#a3160e" stroke="none" stroke-width="0"/>
<circle cx="313.54" cy="110.49" r="1.15" fill="#a3160e" stroke="none" stroke-width="0"/>
<circle cx="315.35" cy="108.68" r="1.15" fill="#a3160e" stroke="none" stroke-width="0"/>
<rect x="310.98" y="111.03" width="5.20" height="2.0" fill="#a3160e"/>
<circle cx="322.18" cy="108.64" r="1.15" fill="#0b5ba3" stroke="none" stroke-width="0"/>
<circle cx="320.93" cy="111.10" r="1.15" fill="#0b5ba3" stroke="none" stroke-width="0"/>
<circle cx="322.20" cy="111.69" r="1.15" fill="#0b5ba3" stroke="none" stroke-width="0"/>
<rect x="320.03" y="111.03" width="5.20" height="2.0" fill="#0b5ba3"/>
<circle cx="337.10" cy="86.79" r="1.15" fill="#a3160e" stroke="none" stroke-width="0"/>
<circle cx="336.55" cy="100.03" r="1.15" fill="#a3160e" stroke="none" stroke-width="0"/>
<circle cx="336.63" cy="101.02" r="1.15" fill="#a3160e" stroke="none" stroke-width="0"/>
<circle cx="337.38" cy="103.10" r="1.15" fill="#a3160e" stroke="none" stroke-width="0"/>
<circle cx="336.58" cy="104.56" r="1.15" fill="#a3160e" stroke="none" stroke-width="0"/>
<circle cx="336.84" cy="105.96" r="1.15" fill="#a3160e" stroke="none" stroke-width="0"/>
<circle cx="337.81" cy="110.40" r="1.15" fill="#a3160e" stroke="none" stroke-width="0"/>
<circle cx="335.22" cy="111.47" r="1.15" fill="#a3160e" stroke="none" stroke-width="0"/>
<circle cx="337.94" cy="110.55" r="1.15" fill="#a3160e" stroke="none" stroke-width="0"/>
<rect x="334.36" y="111.03" width="5.20" height="2.0" fill="#a3160e"/>
<circle cx="346.42" cy="108.15" r="1.15" fill="#0b5ba3" stroke="none" stroke-width="0"/>
<circle cx="346.49" cy="111.18" r="1.15" fill="#0b5ba3" stroke="none" stroke-width="0"/>
<circle cx="345.71" cy="111.41" r="1.15" fill="#0b5ba3" stroke="none" stroke-width="0"/>
<rect x="343.41" y="111.03" width="5.20" height="2.0" fill="#0b5ba3"/>
<circle cx="360.25" cy="84.01" r="1.15" fill="#a3160e" stroke="none" stroke-width="0"/>
<circle cx="360.28" cy="92.89" r="1.15" fill="#a3160e" stroke="none" stroke-width="0"/>
<circle cx="359.77" cy="97.86" r="1.15" fill="#a3160e" stroke="none" stroke-width="0"/>
<circle cx="360.33" cy="99.70" r="1.15" fill="#a3160e" stroke="none" stroke-width="0"/>
<circle cx="359.12" cy="108.30" r="1.15" fill="#a3160e" stroke="none" stroke-width="0"/>
<circle cx="358.85" cy="108.01" r="1.15" fill="#a3160e" stroke="none" stroke-width="0"/>
<circle cx="360.08" cy="109.55" r="1.15" fill="#a3160e" stroke="none" stroke-width="0"/>
<rect x="357.74" y="111.03" width="5.20" height="2.0" fill="#a3160e"/>
<circle cx="369.32" cy="108.39" r="1.15" fill="#0b5ba3" stroke="none" stroke-width="0"/>
<circle cx="367.80" cy="112.12" r="1.15" fill="#0b5ba3" stroke="none" stroke-width="0"/>
<circle cx="370.45" cy="111.26" r="1.15" fill="#0b5ba3" stroke="none" stroke-width="0"/>
<rect x="366.79" y="111.03" width="5.20" height="2.0" fill="#0b5ba3"/>
<circle cx="383.19" cy="87.69" r="1.15" fill="#a3160e" stroke="none" stroke-width="0"/>
<circle cx="383.57" cy="89.42" r="1.15" fill="#a3160e" stroke="none" stroke-width="0"/>
<circle cx="383.28" cy="101.29" r="1.15" fill="#a3160e" stroke="none" stroke-width="0"/>
<circle cx="382.56" cy="107.47" r="1.15" fill="#a3160e" stroke="none" stroke-width="0"/>
<circle cx="383.69" cy="108.74" r="1.15" fill="#a3160e" stroke="none" stroke-width="0"/>
<circle cx="385.30" cy="107.86" r="1.15" fill="#a3160e" stroke="none" stroke-width="0"/>
<rect x="381.12" y="111.03" width="5.20" height="2.0" fill="#a3160e"/>
<circle cx="393.12" cy="108.64" r="1.15" fill="#0b5ba3" stroke="none" stroke-width="0"/>
<circle cx="393.74" cy="111.75" r="1.15" fill="#0b5ba3" stroke="none" stroke-width="0"/>
<circle cx="394.28" cy="111.47" r="1.15" fill="#0b5ba3" stroke="none" stroke-width="0"/>
<rect x="390.17" y="111.03" width="5.20" height="2.0" fill="#0b5ba3"/>
<circle cx="337.40" cy="11.80" r="2.9" fill="#a3160e" stroke="none" stroke-width="0"/>
<circle cx="337.40" cy="24.40" r="2.9" fill="#0b5ba3" stroke="none" stroke-width="0"/>
<text x="343.60" y="14.80" font-size="7.0" text-anchor="start" fill="#111" textLength="41.80" lengthAdjust="spacingAndGlyphs" >Active disease</text>
<text x="343.60" y="26.30" font-size="7.0" text-anchor="start" fill="#111" textLength="46.30" lengthAdjust="spacingAndGlyphs" >Inactive disease</text>
<path d="M57.50 21.80 V13.50 H67.50 V21.80" fill="none" stroke="#444" stroke-width="1"/>
<polygon points="62.50,5.60 63.21,7.03 64.78,7.26 63.64,8.37 63.91,9.94 62.50,9.20 61.09,9.94 61.36,8.37 60.22,7.26 61.79,7.03" fill="#111"/>
<path d="M121.50 21.80 V13.50 H132.50 V21.80" fill="none" stroke="#444" stroke-width="1"/>
<polygon points="127.00,5.60 127.71,7.03 129.28,7.26 128.14,8.37 128.41,9.94 127.00,9.20 125.59,9.94 125.86,8.37 124.72,7.26 126.29,7.03" fill="#111"/>
<text x="-0.30" y="18.40" font-size="14" text-anchor="start" fill="#111" style="stroke-width:0.15px">A</text>
<text transform="translate(25.4 82.6) rotate(-90) scale(0.89 1)" font-size="8.1" fill="#111">SUV<tspan font-size="5.9" dy="2">max</tspan><tspan dy="-2"> TBR</tspan></text>
<line x1="50.60" y1="191.90" x2="50.60" y2="326.90" stroke="#5a5a5a" stroke-width="1"/>
<line x1="50.10" y1="326.40" x2="402.30" y2="326.40" stroke="#5a5a5a" stroke-width="1"/>
<line x1="47.20" y1="326.40" x2="50.60" y2="326.40" stroke="#5a5a5a" stroke-width="1"/>
<text x="46.00" y="329.15" font-size="7.9" text-anchor="end" fill="#111" textLength="4.17" lengthAdjust="spacingAndGlyphs" >0</text>
<line x1="47.20" y1="292.90" x2="50.60" y2="292.90" stroke="#5a5a5a" stroke-width="1"/>
<text x="46.00" y="295.65" font-size="7.9" text-anchor="end" fill="#111" textLength="4.17" lengthAdjust="spacingAndGlyphs" >1</text>
<line x1="47.20" y1="259.40" x2="50.60" y2="259.40" stroke="#5a5a5a" stroke-width="1"/>
<text x="46.00" y="262.15" font-size="7.9" text-anchor="end" fill="#111" textLength="4.17" lengthAdjust="spacingAndGlyphs" >2</text>
<line x1="47.20" y1="225.90" x2="50.60" y2="225.90" stroke="#5a5a5a" stroke-width="1"/>
<text x="46.00" y="228.65" font-size="7.9" text-anchor="end" fill="#111" textLength="4.17" lengthAdjust="spacingAndGlyphs" >3</text>
<line x1="47.20" y1="192.40" x2="50.60" y2="192.40" stroke="#5a5a5a" stroke-width="1"/>
<text x="46.00" y="195.15" font-size="7.9" text-anchor="end" fill="#111" textLength="4.17" lengthAdjust="spacingAndGlyphs" >4</text>
<rect x="55.00" y="279.28" width="6.45" height="47.12" fill="#fdf2ee" stroke="#454545" stroke-width="0.9"/>
<rect x="65.70" y="290.33" width="6.60" height="36.06" fill="#f6f8fc" stroke="#454545" stroke-width="0.9"/>
<line x1="63.40" y1="326.40" x2="63.40" y2="329.80" stroke="#5a5a5a" stroke-width="1"/>
<text x="65.10" y="337.40" font-size="8.6" text-anchor="end" fill="#111" textLength="33.31" lengthAdjust="spacingAndGlyphs" transform="rotate(-45 65.10 337.40)">Asc. aorta</text>
<rect x="84.63" y="277.94" width="6.45" height="48.46" fill="#fdf2ee" stroke="#454545" stroke-width="0.9"/>
<rect x="95.33" y="288.66" width="6.60" height="37.74" fill="#f6f8fc" stroke="#454545" stroke-width="0.9"/>
<line x1="93.03" y1="326.40" x2="93.03" y2="329.80" stroke="#5a5a5a" stroke-width="1"/>
<text x="94.73" y="337.40" font-size="8.6" text-anchor="end" fill="#111" textLength="35.37" lengthAdjust="spacingAndGlyphs" transform="rotate(-45 94.73 337.40)">Aortic arch</text>
<rect x="114.26" y="280.62" width="6.45" height="45.78" fill="#fdf2ee" stroke="#454545" stroke-width="0.9"/>
<rect x="124.96" y="289.33" width="6.60" height="37.07" fill="#f6f8fc" stroke="#454545" stroke-width="0.9"/>
<line x1="122.66" y1="326.40" x2="122.66" y2="329.80" stroke="#5a5a5a" stroke-width="1"/>
<text x="124.36" y="337.40" font-size="8.6" text-anchor="end" fill="#111" textLength="54.70" lengthAdjust="spacingAndGlyphs" transform="rotate(-45 124.36 337.40)">Desc. thor. aorta</text>
<rect x="143.89" y="280.28" width="6.45" height="46.12" fill="#fdf2ee" stroke="#454545" stroke-width="0.9"/>
<rect x="154.59" y="290.33" width="6.60" height="36.06" fill="#f6f8fc" stroke="#454545" stroke-width="0.9"/>
<line x1="152.29" y1="326.40" x2="152.29" y2="329.80" stroke="#5a5a5a" stroke-width="1"/>
<text x="153.99" y="337.40" font-size="8.6" text-anchor="end" fill="#111" textLength="53.89" lengthAdjust="spacingAndGlyphs" transform="rotate(-45 153.99 337.40)">Abdominal aorta</text>
<rect x="173.52" y="276.26" width="6.45" height="50.13" fill="#fdf2ee" stroke="#454545" stroke-width="0.9"/>
<rect x="184.22" y="285.64" width="6.60" height="40.75" fill="#f6f8fc" stroke="#454545" stroke-width="0.9"/>
<line x1="181.92" y1="326.40" x2="181.92" y2="329.80" stroke="#5a5a5a" stroke-width="1"/>
<text x="183.62" y="337.40" font-size="8.6" text-anchor="end" fill="#111" textLength="31.25" lengthAdjust="spacingAndGlyphs" transform="rotate(-45 183.62 337.40)">R Carotid</text>
<rect x="203.15" y="279.61" width="6.45" height="46.79" fill="#fdf2ee" stroke="#454545" stroke-width="0.9"/>
<rect x="213.85" y="287.65" width="6.60" height="38.75" fill="#f6f8fc" stroke="#454545" stroke-width="0.9"/>
<line x1="211.55" y1="326.40" x2="211.55" y2="329.80" stroke="#5a5a5a" stroke-width="1"/>
<text x="213.25" y="337.40" font-size="8.6" text-anchor="end" fill="#111" textLength="30.03" lengthAdjust="spacingAndGlyphs" transform="rotate(-45 213.25 337.40)">L Carotid</text>
<rect x="232.78" y="289.66" width="6.45" height="36.74" fill="#fdf2ee" stroke="#454545" stroke-width="0.9"/>
<rect x="243.48" y="292.34" width="6.60" height="34.06" fill="#f6f8fc" stroke="#454545" stroke-width="0.9"/>
<line x1="241.18" y1="326.40" x2="241.18" y2="329.80" stroke="#5a5a5a" stroke-width="1"/>
<text x="242.88" y="337.40" font-size="8.6" text-anchor="end" fill="#111" textLength="37.43" lengthAdjust="spacingAndGlyphs" transform="rotate(-45 242.88 337.40)">R Vertebral</text>
<rect x="262.41" y="287.65" width="6.45" height="38.75" fill="#fdf2ee" stroke="#454545" stroke-width="0.9"/>
<rect x="273.11" y="291.67" width="6.60" height="34.73" fill="#f6f8fc" stroke="#454545" stroke-width="0.9"/>
<line x1="270.81" y1="326.40" x2="270.81" y2="329.80" stroke="#5a5a5a" stroke-width="1"/>
<text x="272.51" y="337.40" font-size="8.6" text-anchor="end" fill="#111" textLength="36.20" lengthAdjust="spacingAndGlyphs" transform="rotate(-45 272.51 337.40)">L Vertebral</text>
<rect x="292.04" y="285.64" width="6.45" height="40.75" fill="#fdf2ee" stroke="#454545" stroke-width="0.9"/>
<rect x="302.74" y="292.34" width="6.60" height="34.06" fill="#f6f8fc" stroke="#454545" stroke-width="0.9"/>
<line x1="300.44" y1="326.40" x2="300.44" y2="329.80" stroke="#5a5a5a" stroke-width="1"/>
<text x="302.14" y="337.40" font-size="8.6" text-anchor="end" fill="#111" textLength="43.60" lengthAdjust="spacingAndGlyphs" transform="rotate(-45 302.14 337.40)">R Subclavian</text>
<rect x="321.67" y="281.62" width="6.45" height="44.78" fill="#fdf2ee" stroke="#454545" stroke-width="0.9"/>
<rect x="332.37" y="293.35" width="6.60" height="33.05" fill="#f6f8fc" stroke="#454545" stroke-width="0.9"/>
<line x1="330.07" y1="326.40" x2="330.07" y2="329.80" stroke="#5a5a5a" stroke-width="1"/>
<text x="331.77" y="337.40" font-size="8.6" text-anchor="end" fill="#111" textLength="42.37" lengthAdjust="spacingAndGlyphs" transform="rotate(-45 331.77 337.40)">L Subclavian</text>
<rect x="351.30" y="288.66" width="6.45" height="37.74" fill="#fdf2ee" stroke="#454545" stroke-width="0.9"/>
<rect x="362.00" y="293.35" width="6.60" height="33.05" fill="#f6f8fc" stroke="#454545" stroke-width="0.9"/>
<line x1="359.70" y1="326.40" x2="359.70" y2="329.80" stroke="#5a5a5a" stroke-width="1"/>
<text x="361.40" y="337.40" font-size="8.6" text-anchor="end" fill="#111" textLength="31.25" lengthAdjust="spacingAndGlyphs" transform="rotate(-45 361.40 337.40)">R Axillary</text>
<rect x="380.93" y="288.99" width="6.45" height="37.41" fill="#fdf2ee" stroke="#454545" stroke-width="0.9"/>
<rect x="391.63" y="293.35" width="6.60" height="33.05" fill="#f6f8fc" stroke="#454545" stroke-width="0.9"/>
<line x1="389.33" y1="326.40" x2="389.33" y2="329.80" stroke="#5a5a5a" stroke-width="1"/>
<text x="391.03" y="337.40" font-size="8.6" text-anchor="end" fill="#111" textLength="30.02" lengthAdjust="spacingAndGlyphs" transform="rotate(-45 391.03 337.40)">L Axillary</text>
<text x="202.00" y="376.30" font-size="7.8" text-anchor="start" fill="#111" textLength="48.90" lengthAdjust="spacingAndGlyphs" >Arterial territory</text>
<circle cx="58.64" cy="251.82" r="1.15" fill="#a3160e" stroke="none" stroke-width="0"/>
<circle cx="58.20" cy="259.32" r="1.15" fill="#a3160e" stroke="none" stroke-width="0"/>
<circle cx="57.79" cy="262.94" r="1.15" fill="#a3160e" stroke="none" stroke-width="0"/>
<circle cx="58.21" cy="264.99" r="1.15" fill="#a3160e" stroke="none" stroke-width="0"/>
<circle cx="57.55" cy="266.58" r="1.15" fill="#a3160e" stroke="none" stroke-width="0"/>
<circle cx="57.73" cy="274.40" r="1.15" fill="#a3160e" stroke="none" stroke-width="0"/>
<circle cx="60.46" cy="283.06" r="1.15" fill="#a3160e" stroke="none" stroke-width="0"/>
<circle cx="57.56" cy="280.36" r="1.15" fill="#a3160e" stroke="none" stroke-width="0"/>
<circle cx="57.93" cy="289.50" r="1.15" fill="#a3160e" stroke="none" stroke-width="0"/>
<circle cx="59.32" cy="281.37" r="1.15" fill="#a3160e" stroke="none" stroke-width="0"/>
<circle cx="59.67" cy="290.24" r="1.15" fill="#a3160e" stroke="none" stroke-width="0"/>
<circle cx="58.84" cy="285.25" r="1.15" fill="#a3160e" stroke="none" stroke-width="0"/>
<circle cx="58.60" cy="283.68" r="1.15" fill="#a3160e" stroke="none" stroke-width="0"/>
<circle cx="57.34" cy="286.90" r="1.15" fill="#a3160e" stroke="none" stroke-width="0"/>
<circle cx="56.06" cy="280.28" r="1.15" fill="#a3160e" stroke="none" stroke-width="0"/>
<circle cx="58.73" cy="284.60" r="1.15" fill="#a3160e" stroke="none" stroke-width="0"/>
<circle cx="58.26" cy="284.55" r="1.15" fill="#a3160e" stroke="none" stroke-width="0"/>
<circle cx="56.51" cy="280.20" r="1.15" fill="#a3160e" stroke="none" stroke-width="0"/>
<circle cx="58.90" cy="290.24" r="1.15" fill="#a3160e" stroke="none" stroke-width="0"/>
<circle cx="55.91" cy="278.84" r="1.15" fill="#a3160e" stroke="none" stroke-width="0"/>
<circle cx="56.39" cy="283.58" r="1.15" fill="#a3160e" stroke="none" stroke-width="0"/>
<circle cx="56.93" cy="286.79" r="1.15" fill="#a3160e" stroke="none" stroke-width="0"/>
<circle cx="58.61" cy="281.30" r="1.15" fill="#a3160e" stroke="none" stroke-width="0"/>
<circle cx="58.77" cy="288.42" r="1.15" fill="#a3160e" stroke="none" stroke-width="0"/>
<circle cx="67.84" cy="293.46" r="1.15" fill="#0b5ba3" stroke="none" stroke-width="0"/>
<circle cx="66.90" cy="285.18" r="1.15" fill="#0b5ba3" stroke="none" stroke-width="0"/>
<circle cx="68.57" cy="291.97" r="1.15" fill="#0b5ba3" stroke="none" stroke-width="0"/>
<circle cx="66.97" cy="293.24" r="1.15" fill="#0b5ba3" stroke="none" stroke-width="0"/>
<circle cx="66.76" cy="293.64" r="1.15" fill="#0b5ba3" stroke="none" stroke-width="0"/>
<circle cx="71.03" cy="287.95" r="1.15" fill="#0b5ba3" stroke="none" stroke-width="0"/>
<circle cx="67.62" cy="285.88" r="1.15" fill="#0b5ba3" stroke="none" stroke-width="0"/>
<circle cx="69.03" cy="286.80" r="1.15" fill="#0b5ba3" stroke="none" stroke-width="0"/>
<circle cx="70.44" cy="290.34" r="1.15" fill="#0b5ba3" stroke="none" stroke-width="0"/>
<circle cx="68.12" cy="291.80" r="1.15" fill="#0b5ba3" stroke="none" stroke-width="0"/>
<circle cx="66.92" cy="294.69" r="1.15" fill="#0b5ba3" stroke="none" stroke-width="0"/>
<circle cx="70.30" cy="288.22" r="1.15" fill="#0b5ba3" stroke="none" stroke-width="0"/>
<circle cx="66.73" cy="289.13" r="1.15" fill="#0b5ba3" stroke="none" stroke-width="0"/>
<circle cx="70.13" cy="291.03" r="1.15" fill="#0b5ba3" stroke="none" stroke-width="0"/>
<circle cx="70.11" cy="288.06" r="1.15" fill="#0b5ba3" stroke="none" stroke-width="0"/>
<circle cx="67.74" cy="289.88" r="1.15" fill="#0b5ba3" stroke="none" stroke-width="0"/>
<circle cx="67.77" cy="284.88" r="1.15" fill="#0b5ba3" stroke="none" stroke-width="0"/>
<circle cx="68.24" cy="287.35" r="1.15" fill="#0b5ba3" stroke="none" stroke-width="0"/>
<circle cx="88.10" cy="247.21" r="1.15" fill="#a3160e" stroke="none" stroke-width="0"/>
<circle cx="88.13" cy="265.96" r="1.15" fill="#a3160e" stroke="none" stroke-width="0"/>
<circle cx="87.91" cy="268.74" r="1.15" fill="#a3160e" stroke="none" stroke-width="0"/>
<circle cx="88.43" cy="279.96" r="1.15" fill="#a3160e" stroke="none" stroke-width="0"/>
<circle cx="88.59" cy="283.51" r="1.15" fill="#a3160e" stroke="none" stroke-width="0"/>
<circle cx="87.69" cy="286.71" r="1.15" fill="#a3160e" stroke="none" stroke-width="0"/>
<circle cx="88.74" cy="281.93" r="1.15" fill="#a3160e" stroke="none" stroke-width="0"/>
<circle cx="87.54" cy="277.73" r="1.15" fill="#a3160e" stroke="none" stroke-width="0"/>
<circle cx="88.15" cy="287.01" r="1.15" fill="#a3160e" stroke="none" stroke-width="0"/>
<circle cx="86.51" cy="278.76" r="1.15" fill="#a3160e" stroke="none" stroke-width="0"/>
<circle cx="85.89" cy="289.94" r="1.15" fill="#a3160e" stroke="none" stroke-width="0"/>
<circle cx="86.20" cy="286.29" r="1.15" fill="#a3160e" stroke="none" stroke-width="0"/>
<circle cx="86.02" cy="287.14" r="1.15" fill="#a3160e" stroke="none" stroke-width="0"/>
<circle cx="87.12" cy="280.20" r="1.15" fill="#a3160e" stroke="none" stroke-width="0"/>
<circle cx="85.66" cy="277.58" r="1.15" fill="#a3160e" stroke="none" stroke-width="0"/>
<circle cx="88.72" cy="280.47" r="1.15" fill="#a3160e" stroke="none" stroke-width="0"/>
<circle cx="88.74" cy="285.87" r="1.15" fill="#a3160e" stroke="none" stroke-width="0"/>
<circle cx="85.83" cy="278.73" r="1.15" fill="#a3160e" stroke="none" stroke-width="0"/>
<circle cx="87.20" cy="285.89" r="1.15" fill="#a3160e" stroke="none" stroke-width="0"/>
<circle cx="89.30" cy="287.08" r="1.15" fill="#a3160e" stroke="none" stroke-width="0"/>
<circle cx="85.83" cy="278.55" r="1.15" fill="#a3160e" stroke="none" stroke-width="0"/>
<circle cx="99.21" cy="274.07" r="1.15" fill="#0b5ba3" stroke="none" stroke-width="0"/>
<circle cx="98.08" cy="282.34" r="1.15" fill="#0b5ba3" stroke="none" stroke-width="0"/>
<circle cx="97.63" cy="292.99" r="1.15" fill="#0b5ba3" stroke="none" stroke-width="0"/>
<circle cx="98.02" cy="293.24" r="1.15" fill="#0b5ba3" stroke="none" stroke-width="0"/>
<circle cx="100.76" cy="288.18" r="1.15" fill="#0b5ba3" stroke="none" stroke-width="0"/>
<circle cx="100.25" cy="288.47" r="1.15" fill="#0b5ba3" stroke="none" stroke-width="0"/>
<circle cx="96.47" cy="289.48" r="1.15" fill="#0b5ba3" stroke="none" stroke-width="0"/>
<circle cx="98.34" cy="288.48" r="1.15" fill="#0b5ba3" stroke="none" stroke-width="0"/>
<circle cx="97.93" cy="289.67" r="1.15" fill="#0b5ba3" stroke="none" stroke-width="0"/>
<circle cx="98.80" cy="291.57" r="1.15" fill="#0b5ba3" stroke="none" stroke-width="0"/>
<circle cx="100.30" cy="292.69" r="1.15" fill="#0b5ba3" stroke="none" stroke-width="0"/>
<circle cx="100.10" cy="292.75" r="1.15" fill="#0b5ba3" stroke="none" stroke-width="0"/>
<circle cx="96.34" cy="288.57" r="1.15" fill="#0b5ba3" stroke="none" stroke-width="0"/>
<circle cx="99.84" cy="292.55" r="1.15" fill="#0b5ba3" stroke="none" stroke-width="0"/>
<circle cx="96.35" cy="291.53" r="1.15" fill="#0b5ba3" stroke="none" stroke-width="0"/>
<circle cx="98.59" cy="291.05" r="1.15" fill="#0b5ba3" stroke="none" stroke-width="0"/>
<circle cx="97.18" cy="293.43" r="1.15" fill="#0b5ba3" stroke="none" stroke-width="0"/>
<circle cx="97.93" cy="292.14" r="1.15" fill="#0b5ba3" stroke="none" stroke-width="0"/>
<circle cx="117.12" cy="250.29" r="1.15" fill="#a3160e" stroke="none" stroke-width="0"/>
<circle cx="117.16" cy="259.90" r="1.15" fill="#a3160e" stroke="none" stroke-width="0"/>
<circle cx="117.74" cy="270.45" r="1.15" fill="#a3160e" stroke="none" stroke-width="0"/>
<circle cx="116.91" cy="272.88" r="1.15" fill="#a3160e" stroke="none" stroke-width="0"/>
<circle cx="116.23" cy="292.11" r="1.15" fill="#a3160e" stroke="none" stroke-width="0"/>
<circle cx="117.61" cy="279.73" r="1.15" fill="#a3160e" stroke="none" stroke-width="0"/>
<circle cx="118.62" cy="281.28" r="1.15" fill="#a3160e" stroke="none" stroke-width="0"/>
<circle cx="116.76" cy="279.49" r="1.15" fill="#a3160e" stroke="none" stroke-width="0"/>
<circle cx="115.87" cy="282.63" r="1.15" fill="#a3160e" stroke="none" stroke-width="0"/>
<circle cx="118.21" cy="287.40" r="1.15" fill="#a3160e" stroke="none" stroke-width="0"/>
<circle cx="115.94" cy="286.41" r="1.15" fill="#a3160e" stroke="none" stroke-width="0"/>
<circle cx="118.72" cy="286.61" r="1.15" fill="#a3160e" stroke="none" stroke-width="0"/>
<circle cx="115.74" cy="277.74" r="1.15" fill="#a3160e" stroke="none" stroke-width="0"/>
<circle cx="119.23" cy="291.88" r="1.15" fill="#a3160e" stroke="none" stroke-width="0"/>
<circle cx="116.04" cy="277.68" r="1.15" fill="#a3160e" stroke="none" stroke-width="0"/>
<circle cx="118.39" cy="293.33" r="1.15" fill="#a3160e" stroke="none" stroke-width="0"/>
<circle cx="115.87" cy="289.70" r="1.15" fill="#a3160e" stroke="none" stroke-width="0"/>
<circle cx="116.30" cy="288.79" r="1.15" fill="#a3160e" stroke="none" stroke-width="0"/>
<circle cx="117.56" cy="277.37" r="1.15" fill="#a3160e" stroke="none" stroke-width="0"/>
<circle cx="116.67" cy="284.48" r="1.15" fill="#a3160e" stroke="none" stroke-width="0"/>
<circle cx="119.65" cy="286.97" r="1.15" fill="#a3160e" stroke="none" stroke-width="0"/>
<circle cx="115.63" cy="278.15" r="1.15" fill="#a3160e" stroke="none" stroke-width="0"/>
<circle cx="127.70" cy="278.43" r="1.15" fill="#0b5ba3" stroke="none" stroke-width="0"/>
<circle cx="126.61" cy="284.73" r="1.15" fill="#0b5ba3" stroke="none" stroke-width="0"/>
<circle cx="127.82" cy="286.52" r="1.15" fill="#0b5ba3" stroke="none" stroke-width="0"/>
<circle cx="130.14" cy="286.90" r="1.15" fill="#0b5ba3" stroke="none" stroke-width="0"/>
<circle cx="128.60" cy="289.79" r="1.15" fill="#0b5ba3" stroke="none" stroke-width="0"/>
<circle cx="127.90" cy="291.63" r="1.15" fill="#0b5ba3" stroke="none" stroke-width="0"/>
<circle cx="129.28" cy="288.03" r="1.15" fill="#0b5ba3" stroke="none" stroke-width="0"/>
<circle cx="129.52" cy="292.72" r="1.15" fill="#0b5ba3" stroke="none" stroke-width="0"/>
<circle cx="129.88" cy="291.81" r="1.15" fill="#0b5ba3" stroke="none" stroke-width="0"/>
<circle cx="128.91" cy="290.03" r="1.15" fill="#0b5ba3" stroke="none" stroke-width="0"/>
<circle cx="127.40" cy="293.34" r="1.15" fill="#0b5ba3" stroke="none" stroke-width="0"/>
<circle cx="126.41" cy="289.91" r="1.15" fill="#0b5ba3" stroke="none" stroke-width="0"/>
<circle cx="129.56" cy="286.54" r="1.15" fill="#0b5ba3" stroke="none" stroke-width="0"/>
<circle cx="128.86" cy="287.15" r="1.15" fill="#0b5ba3" stroke="none" stroke-width="0"/>
<circle cx="127.91" cy="289.02" r="1.15" fill="#0b5ba3" stroke="none" stroke-width="0"/>
<circle cx="128.82" cy="287.80" r="1.15" fill="#0b5ba3" stroke="none" stroke-width="0"/>
<circle cx="129.07" cy="289.64" r="1.15" fill="#0b5ba3" stroke="none" stroke-width="0"/>
<circle cx="146.65" cy="243.75" r="1.15" fill="#a3160e" stroke="none" stroke-width="0"/>
<circle cx="147.48" cy="250.62" r="1.15" fill="#a3160e" stroke="none" stroke-width="0"/>
<circle cx="147.08" cy="254.66" r="1.15" fill="#a3160e" stroke="none" stroke-width="0"/>
<circle cx="146.44" cy="257.75" r="1.15" fill="#a3160e" stroke="none" stroke-width="0"/>
<circle cx="146.62" cy="266.27" r="1.15" fill="#a3160e" stroke="none" stroke-width="0"/>
<circle cx="147.71" cy="269.80" r="1.15" fill="#a3160e" stroke="none" stroke-width="0"/>
<circle cx="146.05" cy="293.92" r="1.15" fill="#a3160e" stroke="none" stroke-width="0"/>
<circle cx="144.85" cy="284.89" r="1.15" fill="#a3160e" stroke="none" stroke-width="0"/>
<circle cx="146.72" cy="285.70" r="1.15" fill="#a3160e" stroke="none" stroke-width="0"/>
<circle cx="146.41" cy="282.08" r="1.15" fill="#a3160e" stroke="none" stroke-width="0"/>
<circle cx="145.82" cy="286.28" r="1.15" fill="#a3160e" stroke="none" stroke-width="0"/>
<circle cx="149.11" cy="283.72" r="1.15" fill="#a3160e" stroke="none" stroke-width="0"/>
<circle cx="145.80" cy="280.27" r="1.15" fill="#a3160e" stroke="none" stroke-width="0"/>
<circle cx="146.59" cy="285.78" r="1.15" fill="#a3160e" stroke="none" stroke-width="0"/>
<circle cx="145.38" cy="288.25" r="1.15" fill="#a3160e" stroke="none" stroke-width="0"/>
<circle cx="148.51" cy="277.89" r="1.15" fill="#a3160e" stroke="none" stroke-width="0"/>
<circle cx="146.95" cy="291.94" r="1.15" fill="#a3160e" stroke="none" stroke-width="0"/>
<circle cx="145.83" cy="283.13" r="1.15" fill="#a3160e" stroke="none" stroke-width="0"/>
<circle cx="146.41" cy="288.50" r="1.15" fill="#a3160e" stroke="none" stroke-width="0"/>
<circle cx="148.56" cy="281.54" r="1.15" fill="#a3160e" stroke="none" stroke-width="0"/>
<circle cx="146.94" cy="293.45" r="1.15" fill="#a3160e" stroke="none" stroke-width="0"/>
<circle cx="147.31" cy="276.89" r="1.15" fill="#a3160e" stroke="none" stroke-width="0"/>
<circle cx="148.63" cy="289.04" r="1.15" fill="#a3160e" stroke="none" stroke-width="0"/>
<circle cx="148.70" cy="294.69" r="1.15" fill="#a3160e" stroke="none" stroke-width="0"/>
<circle cx="157.72" cy="281.70" r="1.15" fill="#0b5ba3" stroke="none" stroke-width="0"/>
<circle cx="159.76" cy="292.86" r="1.15" fill="#0b5ba3" stroke="none" stroke-width="0"/>
<circle cx="156.24" cy="295.46" r="1.15" fill="#0b5ba3" stroke="none" stroke-width="0"/>
<circle cx="158.50" cy="296.94" r="1.15" fill="#0b5ba3" stroke="none" stroke-width="0"/>
<circle cx="155.64" cy="289.79" r="1.15" fill="#0b5ba3" stroke="none" stroke-width="0"/>
<circle cx="158.61" cy="294.09" r="1.15" fill="#0b5ba3" stroke="none" stroke-width="0"/>
<circle cx="156.06" cy="294.41" r="1.15" fill="#0b5ba3" stroke="none" stroke-width="0"/>
<circle cx="156.66" cy="294.19" r="1.15" fill="#0b5ba3" stroke="none" stroke-width="0"/>
<circle cx="157.18" cy="291.91" r="1.15" fill="#0b5ba3" stroke="none" stroke-width="0"/>
<circle cx="159.75" cy="292.84" r="1.15" fill="#0b5ba3" stroke="none" stroke-width="0"/>
<circle cx="156.36" cy="290.66" r="1.15" fill="#0b5ba3" stroke="none" stroke-width="0"/>
<circle cx="158.39" cy="290.36" r="1.15" fill="#0b5ba3" stroke="none" stroke-width="0"/>
<circle cx="158.66" cy="293.61" r="1.15" fill="#0b5ba3" stroke="none" stroke-width="0"/>
<circle cx="159.22" cy="287.50" r="1.15" fill="#0b5ba3" stroke="none" stroke-width="0"/>
<circle cx="156.50" cy="288.21" r="1.15" fill="#0b5ba3" stroke="none" stroke-width="0"/>
<circle cx="158.03" cy="296.79" r="1.15" fill="#0b5ba3" stroke="none" stroke-width="0"/>
<circle cx="157.61" cy="288.61" r="1.15" fill="#0b5ba3" stroke="none" stroke-width="0"/>
<circle cx="176.80" cy="243.51" r="1.15" fill="#a3160e" stroke="none" stroke-width="0"/>
<circle cx="176.35" cy="259.85" r="1.15" fill="#a3160e" stroke="none" stroke-width="0"/>
<circle cx="176.71" cy="265.84" r="1.15" fill="#a3160e" stroke="none" stroke-width="0"/>
<circle cx="176.67" cy="269.57" r="1.15" fill="#a3160e" stroke="none" stroke-width="0"/>
<circle cx="174.55" cy="283.25" r="1.15" fill="#a3160e" stroke="none" stroke-width="0"/>
<circle cx="177.56" cy="283.31" r="1.15" fill="#a3160e" stroke="none" stroke-width="0"/>
<circle cx="175.94" cy="282.55" r="1.15" fill="#a3160e" stroke="none" stroke-width="0"/>
<circle cx="176.77" cy="276.08" r="1.15" fill="#a3160e" stroke="none" stroke-width="0"/>
<circle cx="178.55" cy="292.16" r="1.15" fill="#a3160e" stroke="none" stroke-width="0"/>
<circle cx="177.72" cy="276.59" r="1.15" fill="#a3160e" stroke="none" stroke-width="0"/>
<circle cx="175.98" cy="283.85" r="1.15" fill="#a3160e" stroke="none" stroke-width="0"/>
<circle cx="176.10" cy="281.81" r="1.15" fill="#a3160e" stroke="none" stroke-width="0"/>
<circle cx="176.84" cy="280.02" r="1.15" fill="#a3160e" stroke="none" stroke-width="0"/>
<circle cx="175.39" cy="276.48" r="1.15" fill="#a3160e" stroke="none" stroke-width="0"/>
<circle cx="176.36" cy="285.44" r="1.15" fill="#a3160e" stroke="none" stroke-width="0"/>
<circle cx="178.22" cy="284.44" r="1.15" fill="#a3160e" stroke="none" stroke-width="0"/>
<circle cx="178.23" cy="274.16" r="1.15" fill="#a3160e" stroke="none" stroke-width="0"/>
<circle cx="176.74" cy="290.99" r="1.15" fill="#a3160e" stroke="none" stroke-width="0"/>
<circle cx="176.75" cy="280.69" r="1.15" fill="#a3160e" stroke="none" stroke-width="0"/>
<circle cx="177.43" cy="280.59" r="1.15" fill="#a3160e" stroke="none" stroke-width="0"/>
<rect x="173.52" y="291.90" width="6.40" height="2.0" fill="#a3160e"/>
<circle cx="187.28" cy="272.69" r="1.15" fill="#0b5ba3" stroke="none" stroke-width="0"/>
<circle cx="187.24" cy="279.55" r="1.15" fill="#0b5ba3" stroke="none" stroke-width="0"/>
<circle cx="187.71" cy="282.02" r="1.15" fill="#0b5ba3" stroke="none" stroke-width="0"/>
<circle cx="188.06" cy="291.68" r="1.15" fill="#0b5ba3" stroke="none" stroke-width="0"/>
<circle cx="188.42" cy="286.63" r="1.15" fill="#0b5ba3" stroke="none" stroke-width="0"/>
<circle cx="188.35" cy="285.20" r="1.15" fill="#0b5ba3" stroke="none" stroke-width="0"/>
<circle cx="188.29" cy="287.85" r="1.15" fill="#0b5ba3" stroke="none" stroke-width="0"/>
<circle cx="188.73" cy="291.29" r="1.15" fill="#0b5ba3" stroke="none" stroke-width="0"/>
<circle cx="186.05" cy="289.40" r="1.15" fill="#0b5ba3" stroke="none" stroke-width="0"/>
<circle cx="188.78" cy="292.10" r="1.15" fill="#0b5ba3" stroke="none" stroke-width="0"/>
<circle cx="188.24" cy="290.42" r="1.15" fill="#0b5ba3" stroke="none" stroke-width="0"/>
<circle cx="189.00" cy="285.28" r="1.15" fill="#0b5ba3" stroke="none" stroke-width="0"/>
<circle cx="187.81" cy="287.26" r="1.15" fill="#0b5ba3" stroke="none" stroke-width="0"/>
<circle cx="186.61" cy="287.00" r="1.15" fill="#0b5ba3" stroke="none" stroke-width="0"/>
<circle cx="186.68" cy="286.04" r="1.15" fill="#0b5ba3" stroke="none" stroke-width="0"/>
<circle cx="188.17" cy="285.45" r="1.15" fill="#0b5ba3" stroke="none" stroke-width="0"/>
<circle cx="185.47" cy="287.43" r="1.15" fill="#0b5ba3" stroke="none" stroke-width="0"/>
<circle cx="205.71" cy="251.80" r="1.15" fill="#a3160e" stroke="none" stroke-width="0"/>
<circle cx="206.78" cy="266.15" r="1.15" fill="#a3160e" stroke="none" stroke-width="0"/>
<circle cx="206.94" cy="269.75" r="1.15" fill="#a3160e" stroke="none" stroke-width="0"/>
<circle cx="204.46" cy="292.86" r="1.15" fill="#a3160e" stroke="none" stroke-width="0"/>
<circle cx="204.64" cy="285.48" r="1.15" fill="#a3160e" stroke="none" stroke-width="0"/>
<circle cx="207.36" cy="281.84" r="1.15" fill="#a3160e" stroke="none" stroke-width="0"/>
<circle cx="207.42" cy="275.43" r="1.15" fill="#a3160e" stroke="none" stroke-width="0"/>
<circle cx="204.28" cy="274.99" r="1.15" fill="#a3160e" stroke="none" stroke-width="0"/>
<circle cx="207.33" cy="284.35" r="1.15" fill="#a3160e" stroke="none" stroke-width="0"/>
<circle cx="207.41" cy="285.05" r="1.15" fill="#a3160e" stroke="none" stroke-width="0"/>
<circle cx="206.94" cy="291.15" r="1.15" fill="#a3160e" stroke="none" stroke-width="0"/>
<circle cx="206.17" cy="281.28" r="1.15" fill="#a3160e" stroke="none" stroke-width="0"/>
<circle cx="205.22" cy="289.27" r="1.15" fill="#a3160e" stroke="none" stroke-width="0"/>
<circle cx="207.35" cy="289.81" r="1.15" fill="#a3160e" stroke="none" stroke-width="0"/>
<circle cx="204.12" cy="292.70" r="1.15" fill="#a3160e" stroke="none" stroke-width="0"/>
<circle cx="207.81" cy="292.56" r="1.15" fill="#a3160e" stroke="none" stroke-width="0"/>
<circle cx="205.48" cy="280.44" r="1.15" fill="#a3160e" stroke="none" stroke-width="0"/>
<circle cx="204.81" cy="290.87" r="1.15" fill="#a3160e" stroke="none" stroke-width="0"/>
<circle cx="206.29" cy="274.83" r="1.15" fill="#a3160e" stroke="none" stroke-width="0"/>
<rect x="203.15" y="291.90" width="6.40" height="2.0" fill="#a3160e"/>
<circle cx="216.96" cy="275.86" r="1.15" fill="#0b5ba3" stroke="none" stroke-width="0"/>
<circle cx="215.13" cy="288.71" r="1.15" fill="#0b5ba3" stroke="none" stroke-width="0"/>
<circle cx="218.09" cy="285.83" r="1.15" fill="#0b5ba3" stroke="none" stroke-width="0"/>
<circle cx="216.38" cy="291.93" r="1.15" fill="#0b5ba3" stroke="none" stroke-width="0"/>
<circle cx="219.35" cy="284.42" r="1.15" fill="#0b5ba3" stroke="none" stroke-width="0"/>
<circle cx="217.62" cy="289.20" r="1.15" fill="#0b5ba3" stroke="none" stroke-width="0"/>
<circle cx="216.82" cy="286.24" r="1.15" fill="#0b5ba3" stroke="none" stroke-width="0"/>
<circle cx="216.58" cy="286.30" r="1.15" fill="#0b5ba3" stroke="none" stroke-width="0"/>
<circle cx="217.62" cy="288.91" r="1.15" fill="#0b5ba3" stroke="none" stroke-width="0"/>
<circle cx="218.56" cy="288.92" r="1.15" fill="#0b5ba3" stroke="none" stroke-width="0"/>
<circle cx="214.86" cy="284.21" r="1.15" fill="#0b5ba3" stroke="none" stroke-width="0"/>
<circle cx="216.79" cy="282.54" r="1.15" fill="#0b5ba3" stroke="none" stroke-width="0"/>
<circle cx="218.60" cy="284.60" r="1.15" fill="#0b5ba3" stroke="none" stroke-width="0"/>
<circle cx="215.04" cy="287.12" r="1.15" fill="#0b5ba3" stroke="none" stroke-width="0"/>
<circle cx="218.58" cy="290.36" r="1.15" fill="#0b5ba3" stroke="none" stroke-width="0"/>
<circle cx="236.08" cy="265.96" r="1.15" fill="#a3160e" stroke="none" stroke-width="0"/>
<circle cx="236.47" cy="269.97" r="1.15" fill="#a3160e" stroke="none" stroke-width="0"/>
<circle cx="236.24" cy="278.41" r="1.15" fill="#a3160e" stroke="none" stroke-width="0"/>
<circle cx="235.77" cy="284.95" r="1.15" fill="#a3160e" stroke="none" stroke-width="0"/>
<circle cx="237.13" cy="290.38" r="1.15" fill="#a3160e" stroke="none" stroke-width="0"/>
<circle cx="234.76" cy="288.96" r="1.15" fill="#a3160e" stroke="none" stroke-width="0"/>
<circle cx="236.80" cy="291.87" r="1.15" fill="#a3160e" stroke="none" stroke-width="0"/>
<rect x="232.78" y="291.90" width="6.40" height="2.0" fill="#a3160e"/>
<circle cx="246.37" cy="281.70" r="1.15" fill="#0b5ba3" stroke="none" stroke-width="0"/>
<circle cx="247.13" cy="289.05" r="1.15" fill="#0b5ba3" stroke="none" stroke-width="0"/>
<circle cx="246.72" cy="297.01" r="1.15" fill="#0b5ba3" stroke="none" stroke-width="0"/>
<circle cx="245.55" cy="291.60" r="1.15" fill="#0b5ba3" stroke="none" stroke-width="0"/>
<circle cx="248.61" cy="291.84" r="1.15" fill="#0b5ba3" stroke="none" stroke-width="0"/>
<rect x="243.58" y="291.90" width="6.40" height="2.0" fill="#0b5ba3"/>
<circle cx="265.64" cy="261.40" r="1.15" fill="#a3160e" stroke="none" stroke-width="0"/>
<circle cx="264.00" cy="283.94" r="1.15" fill="#a3160e" stroke="none" stroke-width="0"/>
<circle cx="267.90" cy="290.04" r="1.15" fill="#a3160e" stroke="none" stroke-width="0"/>
<circle cx="263.80" cy="290.14" r="1.15" fill="#a3160e" stroke="none" stroke-width="0"/>
<circle cx="266.93" cy="290.03" r="1.15" fill="#a3160e" stroke="none" stroke-width="0"/>
<circle cx="266.06" cy="282.47" r="1.15" fill="#a3160e" stroke="none" stroke-width="0"/>
<circle cx="265.70" cy="287.26" r="1.15" fill="#a3160e" stroke="none" stroke-width="0"/>
<circle cx="263.46" cy="284.87" r="1.15" fill="#a3160e" stroke="none" stroke-width="0"/>
<circle cx="267.29" cy="286.96" r="1.15" fill="#a3160e" stroke="none" stroke-width="0"/>
<circle cx="265.92" cy="285.13" r="1.15" fill="#a3160e" stroke="none" stroke-width="0"/>
<rect x="262.41" y="291.90" width="6.40" height="2.0" fill="#a3160e"/>
<circle cx="276.80" cy="280.13" r="1.15" fill="#0b5ba3" stroke="none" stroke-width="0"/>
<circle cx="277.04" cy="285.36" r="1.15" fill="#0b5ba3" stroke="none" stroke-width="0"/>
<circle cx="275.28" cy="291.25" r="1.15" fill="#0b5ba3" stroke="none" stroke-width="0"/>
<circle cx="275.03" cy="291.09" r="1.15" fill="#0b5ba3" stroke="none" stroke-width="0"/>
<rect x="273.21" y="291.90" width="6.40" height="2.0" fill="#0b5ba3"/>
<circle cx="294.66" cy="263.49" r="1.15" fill="#a3160e" stroke="none" stroke-width="0"/>
<circle cx="297.34" cy="278.06" r="1.15" fill="#a3160e" stroke="none" stroke-width="0"/>
<circle cx="294.75" cy="269.54" r="1.15" fill="#a3160e" stroke="none" stroke-width="0"/>
<circle cx="293.67" cy="280.90" r="1.15" fill="#a3160e" stroke="none" stroke-width="0"/>
<circle cx="297.50" cy="267.35" r="1.15" fill="#a3160e" stroke="none" stroke-width="0"/>
<circle cx="293.12" cy="268.37" r="1.15" fill="#a3160e" stroke="none" stroke-width="0"/>
<circle cx="294.56" cy="291.42" r="1.15" fill="#a3160e" stroke="none" stroke-width="0"/>
<circle cx="297.10" cy="277.07" r="1.15" fill="#a3160e" stroke="none" stroke-width="0"/>
<circle cx="293.16" cy="282.42" r="1.15" fill="#a3160e" stroke="none" stroke-width="0"/>
<circle cx="296.20" cy="289.77" r="1.15" fill="#a3160e" stroke="none" stroke-width="0"/>
<circle cx="297.47" cy="266.92" r="1.15" fill="#a3160e" stroke="none" stroke-width="0"/>
<circle cx="293.61" cy="286.16" r="1.15" fill="#a3160e" stroke="none" stroke-width="0"/>
<circle cx="297.26" cy="277.88" r="1.15" fill="#a3160e" stroke="none" stroke-width="0"/>
<circle cx="294.31" cy="275.79" r="1.15" fill="#a3160e" stroke="none" stroke-width="0"/>
<rect x="292.04" y="291.90" width="6.40" height="2.0" fill="#a3160e"/>
<circle cx="306.40" cy="277.92" r="1.15" fill="#0b5ba3" stroke="none" stroke-width="0"/>
<circle cx="305.79" cy="280.36" r="1.15" fill="#0b5ba3" stroke="none" stroke-width="0"/>
<circle cx="305.51" cy="295.90" r="1.15" fill="#0b5ba3" stroke="none" stroke-width="0"/>
<circle cx="305.58" cy="298.10" r="1.15" fill="#0b5ba3" stroke="none" stroke-width="0"/>
<circle cx="303.80" cy="292.79" r="1.15" fill="#0b5ba3" stroke="none" stroke-width="0"/>
<circle cx="304.64" cy="291.49" r="1.15" fill="#0b5ba3" stroke="none" stroke-width="0"/>
<rect x="302.84" y="291.90" width="6.40" height="2.0" fill="#0b5ba3"/>
<circle cx="325.47" cy="217.69" r="1.15" fill="#a3160e" stroke="none" stroke-width="0"/>
<circle cx="325.48" cy="256.94" r="1.15" fill="#a3160e" stroke="none" stroke-width="0"/>
<circle cx="325.41" cy="261.86" r="1.15" fill="#a3160e" stroke="none" stroke-width="0"/>
<circle cx="324.80" cy="266.86" r="1.15" fill="#a3160e" stroke="none" stroke-width="0"/>
<circle cx="325.47" cy="271.67" r="1.15" fill="#a3160e" stroke="none" stroke-width="0"/>
<circle cx="325.05" cy="277.13" r="1.15" fill="#a3160e" stroke="none" stroke-width="0"/>
<circle cx="324.65" cy="279.02" r="1.15" fill="#a3160e" stroke="none" stroke-width="0"/>
<circle cx="324.84" cy="280.25" r="1.15" fill="#a3160e" stroke="none" stroke-width="0"/>
<circle cx="324.37" cy="281.68" r="1.15" fill="#a3160e" stroke="none" stroke-width="0"/>
<circle cx="324.25" cy="283.65" r="1.15" fill="#a3160e" stroke="none" stroke-width="0"/>
<circle cx="324.94" cy="289.67" r="1.15" fill="#a3160e" stroke="none" stroke-width="0"/>
<circle cx="323.29" cy="288.39" r="1.15" fill="#a3160e" stroke="none" stroke-width="0"/>
<circle cx="326.43" cy="291.46" r="1.15" fill="#a3160e" stroke="none" stroke-width="0"/>
<circle cx="323.34" cy="290.83" r="1.15" fill="#a3160e" stroke="none" stroke-width="0"/>
<rect x="321.67" y="291.90" width="6.40" height="2.0" fill="#a3160e"/>
<circle cx="335.42" cy="278.07" r="1.15" fill="#0b5ba3" stroke="none" stroke-width="0"/>
<circle cx="335.13" cy="279.79" r="1.15" fill="#0b5ba3" stroke="none" stroke-width="0"/>
<circle cx="335.05" cy="296.49" r="1.15" fill="#0b5ba3" stroke="none" stroke-width="0"/>
<circle cx="335.91" cy="299.43" r="1.15" fill="#0b5ba3" stroke="none" stroke-width="0"/>
<circle cx="335.64" cy="300.81" r="1.15" fill="#0b5ba3" stroke="none" stroke-width="0"/>
<circle cx="335.05" cy="292.76" r="1.15" fill="#0b5ba3" stroke="none" stroke-width="0"/>
<circle cx="337.96" cy="292.82" r="1.15" fill="#0b5ba3" stroke="none" stroke-width="0"/>
<rect x="332.47" y="291.90" width="6.40" height="2.0" fill="#0b5ba3"/>
<circle cx="353.94" cy="256.59" r="1.15" fill="#a3160e" stroke="none" stroke-width="0"/>
<circle cx="355.05" cy="260.14" r="1.15" fill="#a3160e" stroke="none" stroke-width="0"/>
<circle cx="354.82" cy="278.71" r="1.15" fill="#a3160e" stroke="none" stroke-width="0"/>
<circle cx="355.17" cy="279.88" r="1.15" fill="#a3160e" stroke="none" stroke-width="0"/>
<circle cx="354.93" cy="283.42" r="1.15" fill="#a3160e" stroke="none" stroke-width="0"/>
<circle cx="354.00" cy="285.23" r="1.15" fill="#a3160e" stroke="none" stroke-width="0"/>
<circle cx="354.20" cy="290.36" r="1.15" fill="#a3160e" stroke="none" stroke-width="0"/>
<circle cx="353.20" cy="291.18" r="1.15" fill="#a3160e" stroke="none" stroke-width="0"/>
<circle cx="352.84" cy="292.09" r="1.15" fill="#a3160e" stroke="none" stroke-width="0"/>
<rect x="351.30" y="291.90" width="6.40" height="2.0" fill="#a3160e"/>
<circle cx="365.68" cy="283.98" r="1.15" fill="#0b5ba3" stroke="none" stroke-width="0"/>
<circle cx="364.88" cy="296.00" r="1.15" fill="#0b5ba3" stroke="none" stroke-width="0"/>
<circle cx="365.28" cy="292.62" r="1.15" fill="#0b5ba3" stroke="none" stroke-width="0"/>
<circle cx="363.95" cy="291.95" r="1.15" fill="#0b5ba3" stroke="none" stroke-width="0"/>
<rect x="362.10" y="291.90" width="6.40" height="2.0" fill="#0b5ba3"/>
<circle cx="384.42" cy="256.91" r="1.15" fill="#a3160e" stroke="none" stroke-width="0"/>
<circle cx="384.25" cy="263.91" r="1.15" fill="#a3160e" stroke="none" stroke-width="0"/>
<circle cx="383.52" cy="280.98" r="1.15" fill="#a3160e" stroke="none" stroke-width="0"/>
<circle cx="384.00" cy="283.65" r="1.15" fill="#a3160e" stroke="none" stroke-width="0"/>
<circle cx="383.51" cy="286.05" r="1.15" fill="#a3160e" stroke="none" stroke-width="0"/>
<circle cx="383.90" cy="289.09" r="1.15" fill="#a3160e" stroke="none" stroke-width="0"/>
<circle cx="386.02" cy="289.99" r="1.15" fill="#a3160e" stroke="none" stroke-width="0"/>
<circle cx="385.84" cy="291.11" r="1.15" fill="#a3160e" stroke="none" stroke-width="0"/>
<circle cx="382.69" cy="293.05" r="1.15" fill="#a3160e" stroke="none" stroke-width="0"/>
<rect x="380.93" y="291.90" width="6.40" height="2.0" fill="#a3160e"/>
<circle cx="394.74" cy="297.72" r="1.15" fill="#0b5ba3" stroke="none" stroke-width="0"/>
<circle cx="392.65" cy="292.29" r="1.15" fill="#0b5ba3" stroke="none" stroke-width="0"/>
<circle cx="394.68" cy="291.91" r="1.15" fill="#0b5ba3" stroke="none" stroke-width="0"/>
<rect x="391.73" y="291.90" width="6.40" height="2.0" fill="#0b5ba3"/>
<circle cx="349.30" cy="220.10" r="2.9" fill="#a3160e" stroke="none" stroke-width="0"/>
<circle cx="349.30" cy="232.90" r="2.9" fill="#0b5ba3" stroke="none" stroke-width="0"/>
<text x="355.70" y="223.60" font-size="7.0" text-anchor="start" fill="#111" textLength="42.30" lengthAdjust="spacingAndGlyphs" >Active disease</text>
<text x="355.70" y="236.20" font-size="7.0" text-anchor="start" fill="#111" textLength="46.40" lengthAdjust="spacingAndGlyphs" >Inactive disease</text>
<path d="M57.50 208.60 V200.50 H67.50 V208.60" fill="none" stroke="#444" stroke-width="1"/>
<polygon points="58.15,192.20 58.77,193.45 60.15,193.65 59.15,194.62 59.38,196.00 58.15,195.35 56.92,196.00 57.15,194.62 56.15,193.65 57.53,193.45" fill="#111"/>
<polygon points="62.50,192.20 63.12,193.45 64.50,193.65 63.50,194.62 63.73,196.00 62.50,195.35 61.27,196.00 61.50,194.62 60.50,193.65 61.88,193.45" fill="#111"/>
<polygon points="66.85,192.20 67.47,193.45 68.85,193.65 67.85,194.62 68.08,196.00 66.85,195.35 65.62,196.00 65.85,194.62 64.85,193.65 66.23,193.45" fill="#111"/>
<line x1="85" y1="200.3" x2="127" y2="200.3" stroke="#444" stroke-width="1"/>
<polygon points="107.40,192.30 108.02,193.55 109.40,193.75 108.40,194.72 108.63,196.10 107.40,195.45 106.17,196.10 106.40,194.72 105.40,193.75 106.78,193.55" fill="#111"/>
<path d="M147.50 208.60 V200.50 H157.50 V208.60" fill="none" stroke="#444" stroke-width="1"/>
<polygon points="150.32,192.30 150.94,193.55 152.32,193.75 151.32,194.72 151.56,196.10 150.32,195.45 149.09,196.10 149.33,194.72 148.33,193.75 149.71,193.55" fill="#111"/>
<polygon points="154.67,192.30 155.29,193.55 156.67,193.75 155.67,194.72 155.91,196.10 154.67,195.45 153.44,196.10 153.68,194.72 152.68,193.75 154.06,193.55" fill="#111"/>
<path d="M176.50 208.60 V200.50 H187.50 V208.60" fill="none" stroke="#444" stroke-width="1"/>
<polygon points="182.00,192.30 182.62,193.55 184.00,193.75 183.00,194.72 183.23,196.10 182.00,195.45 180.77,196.10 181.00,194.72 180.00,193.75 181.38,193.55" fill="#111"/>
<path d="M324.50 208.80 V200.50 H334.50 V208.80" fill="none" stroke="#444" stroke-width="1"/>
<polygon points="329.50,193.00 330.15,194.31 331.59,194.52 330.55,195.54 330.79,196.98 329.50,196.30 328.21,196.98 328.45,195.54 327.41,194.52 328.85,194.31" fill="#111"/>
<text x="0.20" y="211.40" font-size="14.4" text-anchor="start" fill="#111" style="stroke-width:0.15px">B</text>
<text transform="translate(30.9 281.9) rotate(-90) scale(0.89 1)" font-size="8.1" fill="#111">SUV<tspan font-size="5.9" dy="2">mean</tspan><tspan dy="-2"> TBR</tspan></text>
<line x1="474.30" y1="84.40" x2="474.30" y2="240.80" stroke="#555" stroke-width="1.1"/>
<line x1="473.80" y1="240.30" x2="685.00" y2="240.30" stroke="#555" stroke-width="1.1"/>
<line x1="470.30" y1="240.30" x2="474.30" y2="240.30" stroke="#555" stroke-width="1.1"/>
<text x="468.50" y="243.50" font-size="9.3" text-anchor="end" fill="#111" textLength="4.84" lengthAdjust="spacingAndGlyphs" style="stroke-width:0.1px">0</text>
<line x1="470.30" y1="188.50" x2="474.30" y2="188.50" stroke="#555" stroke-width="1.1"/>
<text x="468.50" y="191.70" font-size="9.3" text-anchor="end" fill="#111" textLength="4.84" lengthAdjust="spacingAndGlyphs" style="stroke-width:0.1px">5</text>
<line x1="470.30" y1="136.70" x2="474.30" y2="136.70" stroke="#555" stroke-width="1.1"/>
<text x="468.50" y="139.90" font-size="9.3" text-anchor="end" fill="#111" textLength="9.68" lengthAdjust="spacingAndGlyphs" style="stroke-width:0.1px">10</text>
<line x1="470.30" y1="84.90" x2="474.30" y2="84.90" stroke="#555" stroke-width="1.1"/>
<text x="468.50" y="88.10" font-size="9.3" text-anchor="end" fill="#111" textLength="9.68" lengthAdjust="spacingAndGlyphs" style="stroke-width:0.1px">15</text>
<line x1="534.50" y1="240.30" x2="534.50" y2="244.30" stroke="#555" stroke-width="1.1"/>
<line x1="624.50" y1="240.30" x2="624.50" y2="244.30" stroke="#555" stroke-width="1.1"/>
<text x="534.50" y="254.30" font-size="9.0" text-anchor="middle" fill="#111" textLength="24.30" lengthAdjust="spacingAndGlyphs" style="stroke-width:0.1px">Active</text>
<text x="624.70" y="253.80" font-size="9.0" text-anchor="middle" fill="#111" textLength="30.80" lengthAdjust="spacingAndGlyphs" style="stroke-width:0.1px">Inactive</text>
<text x="580.05" y="277.60" font-size="9.4" text-anchor="middle" fill="#111" textLength="144.50" lengthAdjust="spacingAndGlyphs" style="stroke-width:0.1px">Clinical assessment of disease activity</text>
<text x="447.20" y="50.40" font-size="14.2" text-anchor="middle" fill="#111" style="stroke-width:0.1px">C</text>
<text transform="translate(444.9 189.9) rotate(-90) scale(0.88 1)" font-size="9.3" fill="#111" style="stroke-width:0.1px">SUV<tspan font-size="7.0" dy="2.3">mean</tspan><tspan dy="-2.3" dx="0.8" font-size="9.5"> TBR - 12</tspan></text>
<path d="M534.5 91.4 V85.5 H625.5 V91.4" fill="none" stroke="#333" stroke-width="1"/>
<polygon points="575.30,74.20 575.98,75.57 577.49,75.79 576.39,76.86 576.65,78.36 575.30,77.65 573.95,78.36 574.21,76.86 573.11,75.79 574.62,75.57" fill="#111"/>
<polygon points="580.10,74.20 580.78,75.57 582.29,75.79 581.19,76.86 581.45,78.36 580.10,77.65 578.75,78.36 579.01,76.86 577.91,75.79 579.42,75.57" fill="#111"/>
<polygon points="584.90,74.20 585.58,75.57 587.09,75.79 585.99,76.86 586.25,78.36 584.90,77.65 583.55,78.36 583.81,76.86 582.71,75.79 584.22,75.57" fill="#111"/>
<rect x="504.5" y="191.4" width="60" height="29.9" fill="#fcebe6" stroke="#941810" stroke-width="0.9"/>
<line x1="504.50" y1="212.60" x2="564.50" y2="212.60" stroke="#941810" stroke-width="0.9"/>
<line x1="534.60" y1="108.70" x2="534.60" y2="191.40" stroke="#941810" stroke-width="0.9"/>
<line x1="519.80" y1="108.70" x2="549.00" y2="108.70" stroke="#941810" stroke-width="0.9"/>
<line x1="534.60" y1="221.30" x2="534.60" y2="232.40" stroke="#941810" stroke-width="0.9"/>
<line x1="523.00" y1="232.40" x2="546.00" y2="232.40" stroke="#941810" stroke-width="0.9"/>
<circle cx="534.60" cy="108.70" r="2.25" fill="#d3cdca" stroke="#941810" stroke-width="1.65"/>
<circle cx="522.90" cy="161.20" r="2.25" fill="#d3cdca" stroke="#941810" stroke-width="1.65"/>
<circle cx="534.40" cy="163.60" r="2.25" fill="#d3cdca" stroke="#941810" stroke-width="1.65"/>
<circle cx="534.40" cy="169.60" r="2.25" fill="#d3cdca" stroke="#941810" stroke-width="1.65"/>
<circle cx="522.90" cy="189.30" r="2.25" fill="#d3cdca" stroke="#941810" stroke-width="1.65"/>
<circle cx="534.60" cy="191.30" r="2.25" fill="#d3cdca" stroke="#941810" stroke-width="1.65"/>
<circle cx="523.00" cy="195.60" r="2.25" fill="#d3cdca" stroke="#941810" stroke-width="1.65"/>
<circle cx="523.00" cy="202.70" r="2.25" fill="#d3cdca" stroke="#941810" stroke-width="1.65"/>
<circle cx="534.60" cy="201.40" r="2.25" fill="#d3cdca" stroke="#941810" stroke-width="1.65"/>
<circle cx="546.00" cy="200.30" r="2.25" fill="#d3cdca" stroke="#941810" stroke-width="1.65"/>
<circle cx="511.40" cy="213.00" r="2.25" fill="#d3cdca" stroke="#941810" stroke-width="1.65"/>
<circle cx="534.60" cy="213.00" r="2.25" fill="#d3cdca" stroke="#941810" stroke-width="1.65"/>
<circle cx="557.60" cy="213.00" r="2.25" fill="#d3cdca" stroke="#941810" stroke-width="1.65"/>
<circle cx="523.00" cy="215.70" r="2.25" fill="#d3cdca" stroke="#941810" stroke-width="1.65"/>
<circle cx="546.00" cy="216.70" r="2.25" fill="#d3cdca" stroke="#941810" stroke-width="1.65"/>
<circle cx="511.40" cy="220.20" r="2.25" fill="#d3cdca" stroke="#941810" stroke-width="1.65"/>
<circle cx="523.00" cy="221.70" r="2.25" fill="#d3cdca" stroke="#941810" stroke-width="1.65"/>
<circle cx="557.60" cy="220.20" r="2.25" fill="#d3cdca" stroke="#941810" stroke-width="1.65"/>
<circle cx="534.60" cy="222.50" r="2.25" fill="#d3cdca" stroke="#941810" stroke-width="1.65"/>
<circle cx="546.00" cy="224.90" r="2.25" fill="#d3cdca" stroke="#941810" stroke-width="1.65"/>
<circle cx="534.60" cy="229.40" r="2.25" fill="#d3cdca" stroke="#941810" stroke-width="1.65"/>
<circle cx="523.00" cy="232.50" r="2.25" fill="#d3cdca" stroke="#941810" stroke-width="1.65"/>
<circle cx="546.00" cy="232.10" r="2.25" fill="#d3cdca" stroke="#941810" stroke-width="1.65"/>
<rect x="595" y="230.5" width="59.5" height="4" fill="#e6eef7" stroke="#6a98c8" stroke-width="0.8"/>
<line x1="595.00" y1="232.20" x2="654.50" y2="232.20" stroke="#6a98c8" stroke-width="0.8"/>
<line x1="624.60" y1="202.90" x2="624.60" y2="230.50" stroke="#135a9e" stroke-width="0.9"/>
<line x1="610.10" y1="202.90" x2="639.80" y2="202.90" stroke="#135a9e" stroke-width="0.9"/>
<line x1="610.30" y1="237.30" x2="640.00" y2="237.30" stroke="#135a9e" stroke-width="0.9"/>
<circle cx="624.60" cy="202.90" r="2.25" fill="#d2d2d2" stroke="#135a9e" stroke-width="1.65"/>
<circle cx="624.60" cy="218.50" r="2.25" fill="#d2d2d2" stroke="#135a9e" stroke-width="1.65"/>
<circle cx="597.50" cy="230.10" r="2.25" fill="#d2d2d2" stroke="#135a9e" stroke-width="1.65"/>
<circle cx="597.50" cy="236.00" r="2.25" fill="#d2d2d2" stroke="#135a9e" stroke-width="1.65"/>
<circle cx="602.90" cy="231.50" r="2.25" fill="#d2d2d2" stroke="#135a9e" stroke-width="1.65"/>
<circle cx="608.40" cy="233.70" r="2.25" fill="#d2d2d2" stroke="#135a9e" stroke-width="1.65"/>
<circle cx="613.70" cy="232.30" r="2.25" fill="#d2d2d2" stroke="#135a9e" stroke-width="1.65"/>
<circle cx="619.40" cy="237.60" r="2.25" fill="#d2d2d2" stroke="#135a9e" stroke-width="1.65"/>
<circle cx="624.50" cy="233.10" r="2.25" fill="#d2d2d2" stroke="#135a9e" stroke-width="1.65"/>
<circle cx="630.10" cy="230.70" r="2.25" fill="#d2d2d2" stroke="#135a9e" stroke-width="1.65"/>
<circle cx="630.10" cy="236.40" r="2.25" fill="#d2d2d2" stroke="#135a9e" stroke-width="1.65"/>
<circle cx="635.50" cy="235.50" r="2.25" fill="#d2d2d2" stroke="#135a9e" stroke-width="1.65"/>
<circle cx="640.80" cy="231.10" r="2.25" fill="#d2d2d2" stroke="#135a9e" stroke-width="1.65"/>
<circle cx="640.80" cy="237.10" r="2.25" fill="#d2d2d2" stroke="#135a9e" stroke-width="1.65"/>
<circle cx="646.30" cy="235.50" r="2.25" fill="#d2d2d2" stroke="#135a9e" stroke-width="1.65"/>
<circle cx="651.90" cy="226.30" r="2.25" fill="#d2d2d2" stroke="#135a9e" stroke-width="1.65"/>
<circle cx="651.90" cy="234.30" r="2.25" fill="#d2d2d2" stroke="#135a9e" stroke-width="1.65"/>
</svg></body></html>
